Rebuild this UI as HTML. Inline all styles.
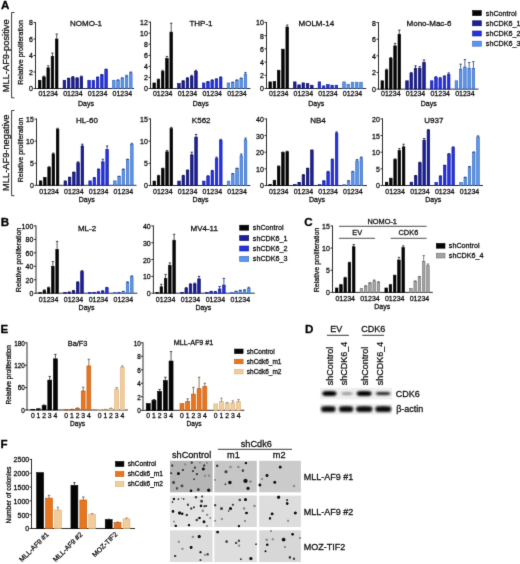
<!DOCTYPE html>
<html><head><meta charset="utf-8"><title>figure</title>
<style>
html,body{margin:0;padding:0;background:#fff;}
body{width:520px;height:564px;overflow:hidden;}
svg{display:block;} .wrap{will-change:transform;}
text{font-family:"Liberation Sans", sans-serif;stroke:currentColor;stroke-width:0.28px;}
</style></head><body><div class="wrap">
<svg width="520" height="564" viewBox="0 0 520 564" font-family='"Liberation Sans", sans-serif'>
<defs><filter id="soft" filterUnits="userSpaceOnUse" x="0" y="0" width="520" height="564" color-interpolation-filters="sRGB"><feConvolveMatrix order="3" kernelMatrix="0.01 0.08 0.01 0.08 0.64 0.08 0.01 0.08 0.01" edgeMode="duplicate" preserveAlpha="true"/></filter></defs>
<g filter="url(#soft)">
<rect x="0" y="0" width="520" height="564" fill="#ffffff"/>
<text x="1.00" y="9.20" font-size="11.6" text-anchor="start" font-weight="bold" fill="#000" style="color:#000" >A</text>
<path d="M14.40,12.50 H11.60 V97.80 H14.40" fill="none" stroke="#222" stroke-width="0.9"/>
<path d="M14.40,110.50 H11.60 V195.70 H14.40" fill="none" stroke="#222" stroke-width="0.9"/>
<text x="0" y="0" font-size="9.3" text-anchor="middle" fill="#111" style="color:#111" transform="translate(9.30,55.80) rotate(-90)">MLL-AF9-positive</text>
<text x="0" y="0" font-size="9.3" text-anchor="middle" fill="#111" style="color:#111" transform="translate(9.30,152.70) rotate(-90)">MLL-AF9-negative</text>
<text x="0" y="0" font-size="7.1" text-anchor="middle" fill="#111" style="color:#111" transform="translate(23.00,52.50) rotate(-90)">Relative proliferation</text>
<text x="0" y="0" font-size="7.1" text-anchor="middle" fill="#111" style="color:#111" transform="translate(23.00,150.00) rotate(-90)">Relative proliferation</text>
<line x1="35.50" y1="22.10" x2="35.50" y2="88.90" stroke="#222" stroke-width="0.95"/>
<line x1="35.50" y1="88.50" x2="134.00" y2="88.50" stroke="#222" stroke-width="0.95"/>
<line x1="33.50" y1="88.50" x2="35.50" y2="88.50" stroke="#222" stroke-width="0.95"/>
<text x="32.80" y="91.47" font-size="7.0" text-anchor="end" font-weight="normal" fill="#111" style="color:#111" >0</text>
<line x1="33.50" y1="72.00" x2="35.50" y2="72.00" stroke="#222" stroke-width="0.95"/>
<text x="32.80" y="74.97" font-size="7.0" text-anchor="end" font-weight="normal" fill="#111" style="color:#111" >2</text>
<line x1="33.50" y1="55.50" x2="35.50" y2="55.50" stroke="#222" stroke-width="0.95"/>
<text x="32.80" y="58.47" font-size="7.0" text-anchor="end" font-weight="normal" fill="#111" style="color:#111" >4</text>
<line x1="33.50" y1="39.00" x2="35.50" y2="39.00" stroke="#222" stroke-width="0.95"/>
<text x="32.80" y="41.97" font-size="7.0" text-anchor="end" font-weight="normal" fill="#111" style="color:#111" >6</text>
<line x1="33.50" y1="22.50" x2="35.50" y2="22.50" stroke="#222" stroke-width="0.95"/>
<text x="32.80" y="25.47" font-size="7.0" text-anchor="end" font-weight="normal" fill="#111" style="color:#111" >8</text>
<rect x="38.40" y="80.25" width="2.60" height="8.25" fill="#050505" stroke="#000000" stroke-width="0.6"/>
<rect x="42.65" y="76.95" width="2.60" height="11.55" fill="#050505" stroke="#000000" stroke-width="0.6"/>
<line x1="43.95" y1="77.25" x2="43.95" y2="76.12" stroke="#222" stroke-width="0.75"/>
<line x1="42.75" y1="76.12" x2="45.15" y2="76.12" stroke="#222" stroke-width="0.8"/>
<rect x="46.90" y="67.88" width="2.60" height="20.62" fill="#050505" stroke="#000000" stroke-width="0.6"/>
<line x1="48.20" y1="68.17" x2="48.20" y2="65.81" stroke="#222" stroke-width="0.75"/>
<line x1="47.00" y1="65.81" x2="49.40" y2="65.81" stroke="#222" stroke-width="0.8"/>
<rect x="51.15" y="56.33" width="2.60" height="32.17" fill="#050505" stroke="#000000" stroke-width="0.6"/>
<line x1="52.45" y1="56.62" x2="52.45" y2="53.03" stroke="#222" stroke-width="0.75"/>
<line x1="51.25" y1="53.03" x2="53.65" y2="53.03" stroke="#222" stroke-width="0.8"/>
<rect x="55.40" y="39.00" width="2.60" height="49.50" fill="#050505" stroke="#000000" stroke-width="0.6"/>
<line x1="56.70" y1="39.30" x2="56.70" y2="34.05" stroke="#222" stroke-width="0.75"/>
<line x1="55.50" y1="34.05" x2="57.90" y2="34.05" stroke="#222" stroke-width="0.8"/>
<text x="48.20" y="96.40" font-size="7.0" text-anchor="middle" font-weight="normal" fill="#111" style="color:#111" >01234</text>
<rect x="63.10" y="80.25" width="2.60" height="8.25" fill="#1b1f9c" stroke="#090b58" stroke-width="0.6"/>
<rect x="67.35" y="78.60" width="2.60" height="9.90" fill="#1b1f9c" stroke="#090b58" stroke-width="0.6"/>
<line x1="68.65" y1="78.90" x2="68.65" y2="78.19" stroke="#0a0c40" stroke-width="0.75"/>
<line x1="67.45" y1="78.19" x2="69.85" y2="78.19" stroke="#0a0c40" stroke-width="0.8"/>
<rect x="71.60" y="77.36" width="2.60" height="11.14" fill="#1b1f9c" stroke="#090b58" stroke-width="0.6"/>
<line x1="72.90" y1="77.66" x2="72.90" y2="76.54" stroke="#0a0c40" stroke-width="0.75"/>
<line x1="71.70" y1="76.54" x2="74.10" y2="76.54" stroke="#0a0c40" stroke-width="0.8"/>
<rect x="75.85" y="78.19" width="2.60" height="10.31" fill="#1b1f9c" stroke="#090b58" stroke-width="0.6"/>
<line x1="77.15" y1="78.49" x2="77.15" y2="77.78" stroke="#0a0c40" stroke-width="0.75"/>
<line x1="75.95" y1="77.78" x2="78.35" y2="77.78" stroke="#0a0c40" stroke-width="0.8"/>
<rect x="80.10" y="76.95" width="2.60" height="11.55" fill="#1b1f9c" stroke="#090b58" stroke-width="0.6"/>
<line x1="81.40" y1="77.25" x2="81.40" y2="76.12" stroke="#0a0c40" stroke-width="0.75"/>
<line x1="80.20" y1="76.12" x2="82.60" y2="76.12" stroke="#0a0c40" stroke-width="0.8"/>
<text x="72.90" y="96.40" font-size="7.0" text-anchor="middle" font-weight="normal" fill="#111" style="color:#111" >01234</text>
<rect x="87.80" y="80.25" width="2.60" height="8.25" fill="#2432e0" stroke="#141e9c" stroke-width="0.6"/>
<rect x="92.05" y="80.25" width="2.60" height="8.25" fill="#2432e0" stroke="#141e9c" stroke-width="0.6"/>
<rect x="96.30" y="77.36" width="2.60" height="11.14" fill="#2432e0" stroke="#141e9c" stroke-width="0.6"/>
<line x1="97.60" y1="77.66" x2="97.60" y2="76.95" stroke="#10156a" stroke-width="0.75"/>
<line x1="96.40" y1="76.95" x2="98.80" y2="76.95" stroke="#10156a" stroke-width="0.8"/>
<rect x="100.55" y="74.89" width="2.60" height="13.61" fill="#2432e0" stroke="#141e9c" stroke-width="0.6"/>
<line x1="101.85" y1="75.19" x2="101.85" y2="74.48" stroke="#10156a" stroke-width="0.75"/>
<line x1="100.65" y1="74.48" x2="103.05" y2="74.48" stroke="#10156a" stroke-width="0.8"/>
<rect x="104.80" y="69.53" width="2.60" height="18.97" fill="#2432e0" stroke="#141e9c" stroke-width="0.6"/>
<line x1="106.10" y1="69.83" x2="106.10" y2="69.11" stroke="#10156a" stroke-width="0.75"/>
<line x1="104.90" y1="69.11" x2="107.30" y2="69.11" stroke="#10156a" stroke-width="0.8"/>
<text x="97.60" y="96.40" font-size="7.0" text-anchor="middle" font-weight="normal" fill="#111" style="color:#111" >01234</text>
<rect x="112.50" y="80.25" width="2.60" height="8.25" fill="#5a96ea" stroke="#3566b8" stroke-width="0.6"/>
<rect x="116.75" y="80.25" width="2.60" height="8.25" fill="#5a96ea" stroke="#3566b8" stroke-width="0.6"/>
<line x1="118.05" y1="80.55" x2="118.05" y2="79.84" stroke="#1f3468" stroke-width="0.75"/>
<line x1="116.85" y1="79.84" x2="119.25" y2="79.84" stroke="#1f3468" stroke-width="0.8"/>
<rect x="121.00" y="78.19" width="2.60" height="10.31" fill="#5a96ea" stroke="#3566b8" stroke-width="0.6"/>
<line x1="122.30" y1="78.49" x2="122.30" y2="77.78" stroke="#1f3468" stroke-width="0.75"/>
<line x1="121.10" y1="77.78" x2="123.50" y2="77.78" stroke="#1f3468" stroke-width="0.8"/>
<rect x="125.25" y="76.12" width="2.60" height="12.38" fill="#5a96ea" stroke="#3566b8" stroke-width="0.6"/>
<line x1="126.55" y1="76.42" x2="126.55" y2="75.30" stroke="#1f3468" stroke-width="0.75"/>
<line x1="125.35" y1="75.30" x2="127.75" y2="75.30" stroke="#1f3468" stroke-width="0.8"/>
<rect x="129.50" y="72.83" width="2.60" height="15.67" fill="#5a96ea" stroke="#3566b8" stroke-width="0.6"/>
<line x1="130.80" y1="73.12" x2="130.80" y2="72.00" stroke="#1f3468" stroke-width="0.75"/>
<line x1="129.60" y1="72.00" x2="132.00" y2="72.00" stroke="#1f3468" stroke-width="0.8"/>
<text x="122.30" y="96.40" font-size="7.0" text-anchor="middle" font-weight="normal" fill="#111" style="color:#111" >01234</text>
<text x="86.00" y="25.80" font-size="8.0" text-anchor="middle" font-weight="normal" fill="#111" style="color:#111" >NOMO-1</text>
<text x="86.00" y="105.50" font-size="7.0" text-anchor="middle" font-weight="normal" fill="#111" style="color:#111" >Days</text>
<line x1="150.50" y1="21.70" x2="150.50" y2="88.90" stroke="#222" stroke-width="0.95"/>
<line x1="150.50" y1="88.50" x2="250.40" y2="88.50" stroke="#222" stroke-width="0.95"/>
<line x1="148.50" y1="88.50" x2="150.50" y2="88.50" stroke="#222" stroke-width="0.95"/>
<text x="147.80" y="91.47" font-size="7.0" text-anchor="end" font-weight="normal" fill="#111" style="color:#111" >0</text>
<line x1="148.50" y1="77.43" x2="150.50" y2="77.43" stroke="#222" stroke-width="0.95"/>
<text x="147.80" y="80.40" font-size="7.0" text-anchor="end" font-weight="normal" fill="#111" style="color:#111" >2</text>
<line x1="148.50" y1="66.37" x2="150.50" y2="66.37" stroke="#222" stroke-width="0.95"/>
<text x="147.80" y="69.34" font-size="7.0" text-anchor="end" font-weight="normal" fill="#111" style="color:#111" >4</text>
<line x1="148.50" y1="55.30" x2="150.50" y2="55.30" stroke="#222" stroke-width="0.95"/>
<text x="147.80" y="58.27" font-size="7.0" text-anchor="end" font-weight="normal" fill="#111" style="color:#111" >6</text>
<line x1="148.50" y1="44.23" x2="150.50" y2="44.23" stroke="#222" stroke-width="0.95"/>
<text x="147.80" y="47.20" font-size="7.0" text-anchor="end" font-weight="normal" fill="#111" style="color:#111" >8</text>
<line x1="148.50" y1="33.17" x2="150.50" y2="33.17" stroke="#222" stroke-width="0.95"/>
<text x="147.80" y="36.14" font-size="7.0" text-anchor="end" font-weight="normal" fill="#111" style="color:#111" >10</text>
<line x1="148.50" y1="22.10" x2="150.50" y2="22.10" stroke="#222" stroke-width="0.95"/>
<text x="147.80" y="25.07" font-size="7.0" text-anchor="end" font-weight="normal" fill="#111" style="color:#111" >12</text>
<rect x="152.90" y="82.97" width="2.60" height="5.53" fill="#050505" stroke="#000000" stroke-width="0.6"/>
<rect x="157.15" y="79.65" width="2.60" height="8.85" fill="#050505" stroke="#000000" stroke-width="0.6"/>
<line x1="158.45" y1="79.95" x2="158.45" y2="79.09" stroke="#222" stroke-width="0.75"/>
<line x1="157.25" y1="79.09" x2="159.65" y2="79.09" stroke="#222" stroke-width="0.8"/>
<rect x="161.40" y="71.35" width="2.60" height="17.15" fill="#050505" stroke="#000000" stroke-width="0.6"/>
<line x1="162.70" y1="71.65" x2="162.70" y2="70.24" stroke="#222" stroke-width="0.75"/>
<line x1="161.50" y1="70.24" x2="163.90" y2="70.24" stroke="#222" stroke-width="0.8"/>
<rect x="165.65" y="58.62" width="2.60" height="29.88" fill="#050505" stroke="#000000" stroke-width="0.6"/>
<line x1="166.95" y1="58.92" x2="166.95" y2="56.41" stroke="#222" stroke-width="0.75"/>
<line x1="165.75" y1="56.41" x2="168.15" y2="56.41" stroke="#222" stroke-width="0.8"/>
<rect x="169.90" y="32.06" width="2.60" height="56.44" fill="#050505" stroke="#000000" stroke-width="0.6"/>
<line x1="171.20" y1="32.36" x2="171.20" y2="23.21" stroke="#222" stroke-width="0.75"/>
<line x1="170.00" y1="23.21" x2="172.40" y2="23.21" stroke="#222" stroke-width="0.8"/>
<text x="162.70" y="96.40" font-size="7.0" text-anchor="middle" font-weight="normal" fill="#111" style="color:#111" >01234</text>
<rect x="177.65" y="83.52" width="2.60" height="4.98" fill="#1b1f9c" stroke="#090b58" stroke-width="0.6"/>
<rect x="181.90" y="81.03" width="2.60" height="7.47" fill="#1b1f9c" stroke="#090b58" stroke-width="0.6"/>
<line x1="183.20" y1="81.33" x2="183.20" y2="80.75" stroke="#0a0c40" stroke-width="0.75"/>
<line x1="182.00" y1="80.75" x2="184.40" y2="80.75" stroke="#0a0c40" stroke-width="0.8"/>
<rect x="186.15" y="78.26" width="2.60" height="10.24" fill="#1b1f9c" stroke="#090b58" stroke-width="0.6"/>
<line x1="187.45" y1="78.56" x2="187.45" y2="77.71" stroke="#0a0c40" stroke-width="0.75"/>
<line x1="186.25" y1="77.71" x2="188.65" y2="77.71" stroke="#0a0c40" stroke-width="0.8"/>
<rect x="190.40" y="76.33" width="2.60" height="12.17" fill="#1b1f9c" stroke="#090b58" stroke-width="0.6"/>
<line x1="191.70" y1="76.63" x2="191.70" y2="75.22" stroke="#0a0c40" stroke-width="0.75"/>
<line x1="190.50" y1="75.22" x2="192.90" y2="75.22" stroke="#0a0c40" stroke-width="0.8"/>
<rect x="194.65" y="71.35" width="2.60" height="17.15" fill="#1b1f9c" stroke="#090b58" stroke-width="0.6"/>
<line x1="195.95" y1="71.65" x2="195.95" y2="70.24" stroke="#0a0c40" stroke-width="0.75"/>
<line x1="194.75" y1="70.24" x2="197.15" y2="70.24" stroke="#0a0c40" stroke-width="0.8"/>
<text x="187.45" y="96.40" font-size="7.0" text-anchor="middle" font-weight="normal" fill="#111" style="color:#111" >01234</text>
<rect x="202.40" y="82.97" width="2.60" height="5.53" fill="#2432e0" stroke="#141e9c" stroke-width="0.6"/>
<rect x="206.65" y="81.86" width="2.60" height="6.64" fill="#2432e0" stroke="#141e9c" stroke-width="0.6"/>
<line x1="207.95" y1="82.16" x2="207.95" y2="81.58" stroke="#10156a" stroke-width="0.75"/>
<line x1="206.75" y1="81.58" x2="209.15" y2="81.58" stroke="#10156a" stroke-width="0.8"/>
<rect x="210.90" y="80.20" width="2.60" height="8.30" fill="#2432e0" stroke="#141e9c" stroke-width="0.6"/>
<line x1="212.20" y1="80.50" x2="212.20" y2="79.92" stroke="#10156a" stroke-width="0.75"/>
<line x1="211.00" y1="79.92" x2="213.40" y2="79.92" stroke="#10156a" stroke-width="0.8"/>
<rect x="215.15" y="79.09" width="2.60" height="9.41" fill="#2432e0" stroke="#141e9c" stroke-width="0.6"/>
<line x1="216.45" y1="79.39" x2="216.45" y2="78.82" stroke="#10156a" stroke-width="0.75"/>
<line x1="215.25" y1="78.82" x2="217.65" y2="78.82" stroke="#10156a" stroke-width="0.8"/>
<rect x="219.40" y="77.43" width="2.60" height="11.07" fill="#2432e0" stroke="#141e9c" stroke-width="0.6"/>
<line x1="220.70" y1="77.73" x2="220.70" y2="76.88" stroke="#10156a" stroke-width="0.75"/>
<line x1="219.50" y1="76.88" x2="221.90" y2="76.88" stroke="#10156a" stroke-width="0.8"/>
<text x="212.20" y="96.40" font-size="7.0" text-anchor="middle" font-weight="normal" fill="#111" style="color:#111" >01234</text>
<rect x="227.15" y="82.97" width="2.60" height="5.53" fill="#5a96ea" stroke="#3566b8" stroke-width="0.6"/>
<rect x="231.40" y="82.41" width="2.60" height="6.09" fill="#5a96ea" stroke="#3566b8" stroke-width="0.6"/>
<line x1="232.70" y1="82.71" x2="232.70" y2="82.14" stroke="#1f3468" stroke-width="0.75"/>
<line x1="231.50" y1="82.14" x2="233.90" y2="82.14" stroke="#1f3468" stroke-width="0.8"/>
<rect x="235.65" y="80.20" width="2.60" height="8.30" fill="#5a96ea" stroke="#3566b8" stroke-width="0.6"/>
<line x1="236.95" y1="80.50" x2="236.95" y2="79.92" stroke="#1f3468" stroke-width="0.75"/>
<line x1="235.75" y1="79.92" x2="238.15" y2="79.92" stroke="#1f3468" stroke-width="0.8"/>
<rect x="239.90" y="78.54" width="2.60" height="9.96" fill="#5a96ea" stroke="#3566b8" stroke-width="0.6"/>
<line x1="241.20" y1="78.84" x2="241.20" y2="77.99" stroke="#1f3468" stroke-width="0.75"/>
<line x1="240.00" y1="77.99" x2="242.40" y2="77.99" stroke="#1f3468" stroke-width="0.8"/>
<rect x="244.15" y="74.11" width="2.60" height="14.39" fill="#5a96ea" stroke="#3566b8" stroke-width="0.6"/>
<line x1="245.45" y1="74.41" x2="245.45" y2="72.45" stroke="#1f3468" stroke-width="0.75"/>
<line x1="244.25" y1="72.45" x2="246.65" y2="72.45" stroke="#1f3468" stroke-width="0.8"/>
<text x="236.95" y="96.40" font-size="7.0" text-anchor="middle" font-weight="normal" fill="#111" style="color:#111" >01234</text>
<text x="201.00" y="25.80" font-size="8.0" text-anchor="middle" font-weight="normal" fill="#111" style="color:#111" >THP-1</text>
<text x="200.70" y="105.50" font-size="7.0" text-anchor="middle" font-weight="normal" fill="#111" style="color:#111" >Days</text>
<line x1="266.50" y1="22.00" x2="266.50" y2="88.90" stroke="#222" stroke-width="0.95"/>
<line x1="266.50" y1="88.50" x2="366.20" y2="88.50" stroke="#222" stroke-width="0.95"/>
<line x1="264.50" y1="88.50" x2="266.50" y2="88.50" stroke="#222" stroke-width="0.95"/>
<text x="263.80" y="91.47" font-size="7.0" text-anchor="end" font-weight="normal" fill="#111" style="color:#111" >0</text>
<line x1="264.50" y1="75.28" x2="266.50" y2="75.28" stroke="#222" stroke-width="0.95"/>
<text x="263.80" y="78.25" font-size="7.0" text-anchor="end" font-weight="normal" fill="#111" style="color:#111" >2</text>
<line x1="264.50" y1="62.06" x2="266.50" y2="62.06" stroke="#222" stroke-width="0.95"/>
<text x="263.80" y="65.03" font-size="7.0" text-anchor="end" font-weight="normal" fill="#111" style="color:#111" >4</text>
<line x1="264.50" y1="48.84" x2="266.50" y2="48.84" stroke="#222" stroke-width="0.95"/>
<text x="263.80" y="51.81" font-size="7.0" text-anchor="end" font-weight="normal" fill="#111" style="color:#111" >6</text>
<line x1="264.50" y1="35.62" x2="266.50" y2="35.62" stroke="#222" stroke-width="0.95"/>
<text x="263.80" y="38.59" font-size="7.0" text-anchor="end" font-weight="normal" fill="#111" style="color:#111" >8</text>
<line x1="264.50" y1="22.40" x2="266.50" y2="22.40" stroke="#222" stroke-width="0.95"/>
<text x="263.80" y="25.37" font-size="7.0" text-anchor="end" font-weight="normal" fill="#111" style="color:#111" >10</text>
<rect x="268.90" y="81.89" width="2.60" height="6.61" fill="#050505" stroke="#000000" stroke-width="0.6"/>
<rect x="273.15" y="81.56" width="2.60" height="6.94" fill="#050505" stroke="#000000" stroke-width="0.6"/>
<rect x="277.40" y="70.65" width="2.60" height="17.85" fill="#050505" stroke="#000000" stroke-width="0.6"/>
<line x1="278.70" y1="70.95" x2="278.70" y2="70.32" stroke="#222" stroke-width="0.75"/>
<line x1="277.50" y1="70.32" x2="279.90" y2="70.32" stroke="#222" stroke-width="0.8"/>
<rect x="281.65" y="49.50" width="2.60" height="39.00" fill="#050505" stroke="#000000" stroke-width="0.6"/>
<line x1="282.95" y1="49.80" x2="282.95" y2="49.17" stroke="#222" stroke-width="0.75"/>
<line x1="281.75" y1="49.17" x2="284.15" y2="49.17" stroke="#222" stroke-width="0.8"/>
<rect x="285.90" y="27.03" width="2.60" height="61.47" fill="#050505" stroke="#000000" stroke-width="0.6"/>
<line x1="287.20" y1="27.33" x2="287.20" y2="25.04" stroke="#222" stroke-width="0.75"/>
<line x1="286.00" y1="25.04" x2="288.40" y2="25.04" stroke="#222" stroke-width="0.8"/>
<text x="278.70" y="96.40" font-size="7.0" text-anchor="middle" font-weight="normal" fill="#111" style="color:#111" >01234</text>
<rect x="293.50" y="81.89" width="2.60" height="6.61" fill="#1b1f9c" stroke="#090b58" stroke-width="0.6"/>
<rect x="297.75" y="84.86" width="2.60" height="3.64" fill="#1b1f9c" stroke="#090b58" stroke-width="0.6"/>
<rect x="302.00" y="82.88" width="2.60" height="5.62" fill="#1b1f9c" stroke="#090b58" stroke-width="0.6"/>
<rect x="306.25" y="83.54" width="2.60" height="4.96" fill="#1b1f9c" stroke="#090b58" stroke-width="0.6"/>
<rect x="310.50" y="85.19" width="2.60" height="3.30" fill="#1b1f9c" stroke="#090b58" stroke-width="0.6"/>
<text x="303.30" y="96.40" font-size="7.0" text-anchor="middle" font-weight="normal" fill="#111" style="color:#111" >01234</text>
<rect x="318.10" y="81.89" width="2.60" height="6.61" fill="#2432e0" stroke="#141e9c" stroke-width="0.6"/>
<rect x="322.35" y="85.86" width="2.60" height="2.64" fill="#2432e0" stroke="#141e9c" stroke-width="0.6"/>
<rect x="326.60" y="84.53" width="2.60" height="3.97" fill="#2432e0" stroke="#141e9c" stroke-width="0.6"/>
<rect x="330.85" y="85.19" width="2.60" height="3.30" fill="#2432e0" stroke="#141e9c" stroke-width="0.6"/>
<rect x="335.10" y="85.19" width="2.60" height="3.30" fill="#2432e0" stroke="#141e9c" stroke-width="0.6"/>
<text x="327.90" y="96.40" font-size="7.0" text-anchor="middle" font-weight="normal" fill="#111" style="color:#111" >01234</text>
<rect x="342.70" y="81.89" width="2.60" height="6.61" fill="#5a96ea" stroke="#3566b8" stroke-width="0.6"/>
<rect x="346.95" y="84.20" width="2.60" height="4.30" fill="#5a96ea" stroke="#3566b8" stroke-width="0.6"/>
<rect x="351.20" y="82.22" width="2.60" height="6.28" fill="#5a96ea" stroke="#3566b8" stroke-width="0.6"/>
<rect x="355.45" y="82.22" width="2.60" height="6.28" fill="#5a96ea" stroke="#3566b8" stroke-width="0.6"/>
<rect x="359.70" y="82.22" width="2.60" height="6.28" fill="#5a96ea" stroke="#3566b8" stroke-width="0.6"/>
<text x="352.50" y="96.40" font-size="7.0" text-anchor="middle" font-weight="normal" fill="#111" style="color:#111" >01234</text>
<text x="316.30" y="25.80" font-size="8.0" text-anchor="middle" font-weight="normal" fill="#111" style="color:#111" >MOLM-14</text>
<text x="316.20" y="105.50" font-size="7.0" text-anchor="middle" font-weight="normal" fill="#111" style="color:#111" >Days</text>
<line x1="378.50" y1="22.20" x2="378.50" y2="89.50" stroke="#222" stroke-width="0.95"/>
<line x1="378.50" y1="89.10" x2="478.50" y2="89.10" stroke="#222" stroke-width="0.95"/>
<line x1="376.50" y1="89.10" x2="378.50" y2="89.10" stroke="#222" stroke-width="0.95"/>
<text x="375.80" y="92.07" font-size="7.0" text-anchor="end" font-weight="normal" fill="#111" style="color:#111" >0</text>
<line x1="376.50" y1="72.47" x2="378.50" y2="72.47" stroke="#222" stroke-width="0.95"/>
<text x="375.80" y="75.44" font-size="7.0" text-anchor="end" font-weight="normal" fill="#111" style="color:#111" >2</text>
<line x1="376.50" y1="55.85" x2="378.50" y2="55.85" stroke="#222" stroke-width="0.95"/>
<text x="375.80" y="58.82" font-size="7.0" text-anchor="end" font-weight="normal" fill="#111" style="color:#111" >4</text>
<line x1="376.50" y1="39.22" x2="378.50" y2="39.22" stroke="#222" stroke-width="0.95"/>
<text x="375.80" y="42.20" font-size="7.0" text-anchor="end" font-weight="normal" fill="#111" style="color:#111" >6</text>
<line x1="376.50" y1="22.60" x2="378.50" y2="22.60" stroke="#222" stroke-width="0.95"/>
<text x="375.80" y="25.57" font-size="7.0" text-anchor="end" font-weight="normal" fill="#111" style="color:#111" >8</text>
<rect x="381.00" y="80.79" width="2.60" height="8.31" fill="#050505" stroke="#000000" stroke-width="0.6"/>
<rect x="385.25" y="69.98" width="2.60" height="19.12" fill="#050505" stroke="#000000" stroke-width="0.6"/>
<line x1="386.55" y1="70.28" x2="386.55" y2="69.15" stroke="#222" stroke-width="0.75"/>
<line x1="385.35" y1="69.15" x2="387.75" y2="69.15" stroke="#222" stroke-width="0.8"/>
<rect x="389.50" y="58.34" width="2.60" height="30.76" fill="#050505" stroke="#000000" stroke-width="0.6"/>
<line x1="390.80" y1="58.64" x2="390.80" y2="57.51" stroke="#222" stroke-width="0.75"/>
<line x1="389.60" y1="57.51" x2="392.00" y2="57.51" stroke="#222" stroke-width="0.8"/>
<rect x="393.75" y="45.87" width="2.60" height="43.23" fill="#050505" stroke="#000000" stroke-width="0.6"/>
<line x1="395.05" y1="46.17" x2="395.05" y2="43.38" stroke="#222" stroke-width="0.75"/>
<line x1="393.85" y1="43.38" x2="396.25" y2="43.38" stroke="#222" stroke-width="0.8"/>
<rect x="398.00" y="34.24" width="2.60" height="54.86" fill="#050505" stroke="#000000" stroke-width="0.6"/>
<line x1="399.30" y1="34.54" x2="399.30" y2="30.08" stroke="#222" stroke-width="0.75"/>
<line x1="398.10" y1="30.08" x2="400.50" y2="30.08" stroke="#222" stroke-width="0.8"/>
<text x="390.80" y="96.40" font-size="7.0" text-anchor="middle" font-weight="normal" fill="#111" style="color:#111" >01234</text>
<rect x="405.70" y="80.79" width="2.60" height="8.31" fill="#1b1f9c" stroke="#090b58" stroke-width="0.6"/>
<rect x="409.95" y="73.31" width="2.60" height="15.79" fill="#1b1f9c" stroke="#090b58" stroke-width="0.6"/>
<line x1="411.25" y1="73.61" x2="411.25" y2="72.47" stroke="#0a0c40" stroke-width="0.75"/>
<line x1="410.05" y1="72.47" x2="412.45" y2="72.47" stroke="#0a0c40" stroke-width="0.8"/>
<rect x="414.20" y="68.32" width="2.60" height="20.78" fill="#1b1f9c" stroke="#090b58" stroke-width="0.6"/>
<line x1="415.50" y1="68.62" x2="415.50" y2="65.82" stroke="#0a0c40" stroke-width="0.75"/>
<line x1="414.30" y1="65.82" x2="416.70" y2="65.82" stroke="#0a0c40" stroke-width="0.8"/>
<rect x="418.45" y="68.32" width="2.60" height="20.78" fill="#1b1f9c" stroke="#090b58" stroke-width="0.6"/>
<line x1="419.75" y1="68.62" x2="419.75" y2="66.66" stroke="#0a0c40" stroke-width="0.75"/>
<line x1="418.55" y1="66.66" x2="420.95" y2="66.66" stroke="#0a0c40" stroke-width="0.8"/>
<rect x="422.70" y="62.50" width="2.60" height="26.60" fill="#1b1f9c" stroke="#090b58" stroke-width="0.6"/>
<line x1="424.00" y1="62.80" x2="424.00" y2="60.01" stroke="#0a0c40" stroke-width="0.75"/>
<line x1="422.80" y1="60.01" x2="425.20" y2="60.01" stroke="#0a0c40" stroke-width="0.8"/>
<text x="415.50" y="96.40" font-size="7.0" text-anchor="middle" font-weight="normal" fill="#111" style="color:#111" >01234</text>
<rect x="430.40" y="80.79" width="2.60" height="8.31" fill="#2432e0" stroke="#141e9c" stroke-width="0.6"/>
<rect x="434.65" y="77.46" width="2.60" height="11.64" fill="#2432e0" stroke="#141e9c" stroke-width="0.6"/>
<line x1="435.95" y1="77.76" x2="435.95" y2="76.63" stroke="#10156a" stroke-width="0.75"/>
<line x1="434.75" y1="76.63" x2="437.15" y2="76.63" stroke="#10156a" stroke-width="0.8"/>
<rect x="438.90" y="78.29" width="2.60" height="10.81" fill="#2432e0" stroke="#141e9c" stroke-width="0.6"/>
<line x1="440.20" y1="78.59" x2="440.20" y2="77.46" stroke="#10156a" stroke-width="0.75"/>
<line x1="439.00" y1="77.46" x2="441.40" y2="77.46" stroke="#10156a" stroke-width="0.8"/>
<rect x="443.15" y="76.63" width="2.60" height="12.47" fill="#2432e0" stroke="#141e9c" stroke-width="0.6"/>
<line x1="444.45" y1="76.93" x2="444.45" y2="75.80" stroke="#10156a" stroke-width="0.75"/>
<line x1="443.25" y1="75.80" x2="445.65" y2="75.80" stroke="#10156a" stroke-width="0.8"/>
<rect x="447.40" y="74.55" width="2.60" height="14.55" fill="#2432e0" stroke="#141e9c" stroke-width="0.6"/>
<line x1="448.70" y1="74.85" x2="448.70" y2="72.89" stroke="#10156a" stroke-width="0.75"/>
<line x1="447.50" y1="72.89" x2="449.90" y2="72.89" stroke="#10156a" stroke-width="0.8"/>
<text x="440.20" y="96.40" font-size="7.0" text-anchor="middle" font-weight="normal" fill="#111" style="color:#111" >01234</text>
<rect x="455.10" y="80.79" width="2.60" height="8.31" fill="#5a96ea" stroke="#3566b8" stroke-width="0.6"/>
<rect x="459.35" y="69.15" width="2.60" height="19.95" fill="#5a96ea" stroke="#3566b8" stroke-width="0.6"/>
<line x1="460.65" y1="69.45" x2="460.65" y2="64.16" stroke="#1f3468" stroke-width="0.75"/>
<line x1="459.45" y1="64.16" x2="461.85" y2="64.16" stroke="#1f3468" stroke-width="0.8"/>
<rect x="463.60" y="67.07" width="2.60" height="22.03" fill="#5a96ea" stroke="#3566b8" stroke-width="0.6"/>
<line x1="464.90" y1="67.37" x2="464.90" y2="59.59" stroke="#1f3468" stroke-width="0.75"/>
<line x1="463.70" y1="59.59" x2="466.10" y2="59.59" stroke="#1f3468" stroke-width="0.8"/>
<rect x="467.85" y="68.32" width="2.60" height="20.78" fill="#5a96ea" stroke="#3566b8" stroke-width="0.6"/>
<line x1="469.15" y1="68.62" x2="469.15" y2="62.50" stroke="#1f3468" stroke-width="0.75"/>
<line x1="467.95" y1="62.50" x2="470.35" y2="62.50" stroke="#1f3468" stroke-width="0.8"/>
<rect x="472.10" y="68.32" width="2.60" height="20.78" fill="#5a96ea" stroke="#3566b8" stroke-width="0.6"/>
<line x1="473.40" y1="68.62" x2="473.40" y2="61.67" stroke="#1f3468" stroke-width="0.75"/>
<line x1="472.20" y1="61.67" x2="474.60" y2="61.67" stroke="#1f3468" stroke-width="0.8"/>
<text x="464.90" y="96.40" font-size="7.0" text-anchor="middle" font-weight="normal" fill="#111" style="color:#111" >01234</text>
<text x="429.00" y="25.80" font-size="8.0" text-anchor="middle" font-weight="normal" fill="#111" style="color:#111" >Mono-Mac-6</text>
<text x="428.80" y="105.50" font-size="7.0" text-anchor="middle" font-weight="normal" fill="#111" style="color:#111" >Days</text>
<rect x="472.60" y="10.60" width="8.70" height="5.00" fill="#050505" stroke="#000000" stroke-width="0.6"/>
<text x="485.80" y="15.69" font-size="7.2" text-anchor="start" font-weight="normal" fill="#111" style="color:#111" >shControl</text>
<rect x="472.60" y="20.80" width="8.70" height="5.00" fill="#1b1f9c" stroke="#090b58" stroke-width="0.6"/>
<text x="485.80" y="25.89" font-size="7.2" text-anchor="start" font-weight="normal" fill="#111" style="color:#111" >shCDK6_1</text>
<rect x="472.60" y="31.00" width="8.70" height="5.00" fill="#2432e0" stroke="#141e9c" stroke-width="0.6"/>
<text x="485.80" y="36.09" font-size="7.2" text-anchor="start" font-weight="normal" fill="#111" style="color:#111" >shCDK6_2</text>
<rect x="472.60" y="41.20" width="8.70" height="5.00" fill="#5a96ea" stroke="#3566b8" stroke-width="0.6"/>
<text x="485.80" y="46.29" font-size="7.2" text-anchor="start" font-weight="normal" fill="#111" style="color:#111" >shCDK6_3</text>
<line x1="36.50" y1="118.60" x2="36.50" y2="185.70" stroke="#222" stroke-width="0.95"/>
<line x1="36.50" y1="185.30" x2="136.50" y2="185.30" stroke="#222" stroke-width="0.95"/>
<line x1="34.50" y1="185.30" x2="36.50" y2="185.30" stroke="#222" stroke-width="0.95"/>
<text x="33.80" y="188.27" font-size="7.0" text-anchor="end" font-weight="normal" fill="#111" style="color:#111" >0</text>
<line x1="34.50" y1="163.20" x2="36.50" y2="163.20" stroke="#222" stroke-width="0.95"/>
<text x="33.80" y="166.17" font-size="7.0" text-anchor="end" font-weight="normal" fill="#111" style="color:#111" >5</text>
<line x1="34.50" y1="141.10" x2="36.50" y2="141.10" stroke="#222" stroke-width="0.95"/>
<text x="33.80" y="144.07" font-size="7.0" text-anchor="end" font-weight="normal" fill="#111" style="color:#111" >10</text>
<line x1="34.50" y1="119.00" x2="36.50" y2="119.00" stroke="#222" stroke-width="0.95"/>
<text x="33.80" y="121.97" font-size="7.0" text-anchor="end" font-weight="normal" fill="#111" style="color:#111" >15</text>
<rect x="39.30" y="180.88" width="2.60" height="4.42" fill="#050505" stroke="#000000" stroke-width="0.6"/>
<rect x="43.55" y="177.34" width="2.60" height="7.96" fill="#050505" stroke="#000000" stroke-width="0.6"/>
<rect x="47.80" y="167.18" width="2.60" height="18.12" fill="#050505" stroke="#000000" stroke-width="0.6"/>
<line x1="49.10" y1="167.48" x2="49.10" y2="166.74" stroke="#222" stroke-width="0.75"/>
<line x1="47.90" y1="166.74" x2="50.30" y2="166.74" stroke="#222" stroke-width="0.8"/>
<rect x="52.05" y="153.92" width="2.60" height="31.38" fill="#050505" stroke="#000000" stroke-width="0.6"/>
<line x1="53.35" y1="154.22" x2="53.35" y2="153.03" stroke="#222" stroke-width="0.75"/>
<line x1="52.15" y1="153.03" x2="54.55" y2="153.03" stroke="#222" stroke-width="0.8"/>
<rect x="56.30" y="129.17" width="2.60" height="56.13" fill="#050505" stroke="#000000" stroke-width="0.6"/>
<line x1="57.60" y1="129.47" x2="57.60" y2="128.28" stroke="#222" stroke-width="0.75"/>
<line x1="56.40" y1="128.28" x2="58.80" y2="128.28" stroke="#222" stroke-width="0.8"/>
<text x="49.10" y="194.30" font-size="7.0" text-anchor="middle" font-weight="normal" fill="#111" style="color:#111" >01234</text>
<rect x="64.05" y="180.88" width="2.60" height="4.42" fill="#1b1f9c" stroke="#090b58" stroke-width="0.6"/>
<rect x="68.30" y="177.34" width="2.60" height="7.96" fill="#1b1f9c" stroke="#090b58" stroke-width="0.6"/>
<line x1="69.60" y1="177.64" x2="69.60" y2="177.12" stroke="#0a0c40" stroke-width="0.75"/>
<line x1="68.40" y1="177.12" x2="70.80" y2="177.12" stroke="#0a0c40" stroke-width="0.8"/>
<rect x="72.55" y="172.48" width="2.60" height="12.82" fill="#1b1f9c" stroke="#090b58" stroke-width="0.6"/>
<line x1="73.85" y1="172.78" x2="73.85" y2="172.04" stroke="#0a0c40" stroke-width="0.75"/>
<line x1="72.65" y1="172.04" x2="75.05" y2="172.04" stroke="#0a0c40" stroke-width="0.8"/>
<rect x="76.80" y="162.76" width="2.60" height="22.54" fill="#1b1f9c" stroke="#090b58" stroke-width="0.6"/>
<line x1="78.10" y1="163.06" x2="78.10" y2="161.87" stroke="#0a0c40" stroke-width="0.75"/>
<line x1="76.90" y1="161.87" x2="79.30" y2="161.87" stroke="#0a0c40" stroke-width="0.8"/>
<rect x="81.05" y="145.96" width="2.60" height="39.34" fill="#1b1f9c" stroke="#090b58" stroke-width="0.6"/>
<line x1="82.35" y1="146.26" x2="82.35" y2="144.19" stroke="#0a0c40" stroke-width="0.75"/>
<line x1="81.15" y1="144.19" x2="83.55" y2="144.19" stroke="#0a0c40" stroke-width="0.8"/>
<text x="73.85" y="194.30" font-size="7.0" text-anchor="middle" font-weight="normal" fill="#111" style="color:#111" >01234</text>
<rect x="88.80" y="180.88" width="2.60" height="4.42" fill="#2432e0" stroke="#141e9c" stroke-width="0.6"/>
<rect x="93.05" y="177.79" width="2.60" height="7.51" fill="#2432e0" stroke="#141e9c" stroke-width="0.6"/>
<line x1="94.35" y1="178.09" x2="94.35" y2="177.56" stroke="#10156a" stroke-width="0.75"/>
<line x1="93.15" y1="177.56" x2="95.55" y2="177.56" stroke="#10156a" stroke-width="0.8"/>
<rect x="97.30" y="169.39" width="2.60" height="15.91" fill="#2432e0" stroke="#141e9c" stroke-width="0.6"/>
<line x1="98.60" y1="169.69" x2="98.60" y2="168.95" stroke="#10156a" stroke-width="0.75"/>
<line x1="97.40" y1="168.95" x2="99.80" y2="168.95" stroke="#10156a" stroke-width="0.8"/>
<rect x="101.55" y="161.87" width="2.60" height="23.43" fill="#2432e0" stroke="#141e9c" stroke-width="0.6"/>
<line x1="102.85" y1="162.17" x2="102.85" y2="159.22" stroke="#10156a" stroke-width="0.75"/>
<line x1="101.65" y1="159.22" x2="104.05" y2="159.22" stroke="#10156a" stroke-width="0.8"/>
<rect x="105.80" y="149.50" width="2.60" height="35.80" fill="#2432e0" stroke="#141e9c" stroke-width="0.6"/>
<line x1="107.10" y1="149.80" x2="107.10" y2="145.96" stroke="#10156a" stroke-width="0.75"/>
<line x1="105.90" y1="145.96" x2="108.30" y2="145.96" stroke="#10156a" stroke-width="0.8"/>
<text x="98.60" y="194.30" font-size="7.0" text-anchor="middle" font-weight="normal" fill="#111" style="color:#111" >01234</text>
<rect x="113.55" y="180.88" width="2.60" height="4.42" fill="#5a96ea" stroke="#3566b8" stroke-width="0.6"/>
<rect x="117.80" y="176.46" width="2.60" height="8.84" fill="#5a96ea" stroke="#3566b8" stroke-width="0.6"/>
<line x1="119.10" y1="176.76" x2="119.10" y2="176.24" stroke="#1f3468" stroke-width="0.75"/>
<line x1="117.90" y1="176.24" x2="120.30" y2="176.24" stroke="#1f3468" stroke-width="0.8"/>
<rect x="122.05" y="169.39" width="2.60" height="15.91" fill="#5a96ea" stroke="#3566b8" stroke-width="0.6"/>
<line x1="123.35" y1="169.69" x2="123.35" y2="168.95" stroke="#1f3468" stroke-width="0.75"/>
<line x1="122.15" y1="168.95" x2="124.55" y2="168.95" stroke="#1f3468" stroke-width="0.8"/>
<rect x="126.30" y="159.66" width="2.60" height="25.64" fill="#5a96ea" stroke="#3566b8" stroke-width="0.6"/>
<line x1="127.60" y1="159.96" x2="127.60" y2="159.22" stroke="#1f3468" stroke-width="0.75"/>
<line x1="126.40" y1="159.22" x2="128.80" y2="159.22" stroke="#1f3468" stroke-width="0.8"/>
<rect x="130.55" y="144.64" width="2.60" height="40.66" fill="#5a96ea" stroke="#3566b8" stroke-width="0.6"/>
<line x1="131.85" y1="144.94" x2="131.85" y2="143.31" stroke="#1f3468" stroke-width="0.75"/>
<line x1="130.65" y1="143.31" x2="133.05" y2="143.31" stroke="#1f3468" stroke-width="0.8"/>
<text x="123.35" y="194.30" font-size="7.0" text-anchor="middle" font-weight="normal" fill="#111" style="color:#111" >01234</text>
<text x="87.00" y="122.60" font-size="8.0" text-anchor="middle" font-weight="normal" fill="#111" style="color:#111" >HL-60</text>
<text x="86.80" y="202.30" font-size="7.0" text-anchor="middle" font-weight="normal" fill="#111" style="color:#111" >Days</text>
<line x1="150.50" y1="118.50" x2="150.50" y2="185.90" stroke="#222" stroke-width="0.95"/>
<line x1="150.50" y1="185.50" x2="250.30" y2="185.50" stroke="#222" stroke-width="0.95"/>
<line x1="148.50" y1="185.50" x2="150.50" y2="185.50" stroke="#222" stroke-width="0.95"/>
<text x="147.80" y="188.47" font-size="7.0" text-anchor="end" font-weight="normal" fill="#111" style="color:#111" >0</text>
<line x1="148.50" y1="163.30" x2="150.50" y2="163.30" stroke="#222" stroke-width="0.95"/>
<text x="147.80" y="166.27" font-size="7.0" text-anchor="end" font-weight="normal" fill="#111" style="color:#111" >5</text>
<line x1="148.50" y1="141.10" x2="150.50" y2="141.10" stroke="#222" stroke-width="0.95"/>
<text x="147.80" y="144.07" font-size="7.0" text-anchor="end" font-weight="normal" fill="#111" style="color:#111" >10</text>
<line x1="148.50" y1="118.90" x2="150.50" y2="118.90" stroke="#222" stroke-width="0.95"/>
<text x="147.80" y="121.87" font-size="7.0" text-anchor="end" font-weight="normal" fill="#111" style="color:#111" >15</text>
<rect x="153.00" y="181.06" width="2.60" height="4.44" fill="#050505" stroke="#000000" stroke-width="0.6"/>
<rect x="157.25" y="175.73" width="2.60" height="9.77" fill="#050505" stroke="#000000" stroke-width="0.6"/>
<line x1="158.55" y1="176.03" x2="158.55" y2="175.29" stroke="#222" stroke-width="0.75"/>
<line x1="157.35" y1="175.29" x2="159.75" y2="175.29" stroke="#222" stroke-width="0.8"/>
<rect x="161.50" y="168.63" width="2.60" height="16.87" fill="#050505" stroke="#000000" stroke-width="0.6"/>
<line x1="162.80" y1="168.93" x2="162.80" y2="168.18" stroke="#222" stroke-width="0.75"/>
<line x1="161.60" y1="168.18" x2="164.00" y2="168.18" stroke="#222" stroke-width="0.8"/>
<rect x="165.75" y="151.76" width="2.60" height="33.74" fill="#050505" stroke="#000000" stroke-width="0.6"/>
<line x1="167.05" y1="152.06" x2="167.05" y2="150.42" stroke="#222" stroke-width="0.75"/>
<line x1="165.85" y1="150.42" x2="168.25" y2="150.42" stroke="#222" stroke-width="0.8"/>
<rect x="170.00" y="128.67" width="2.60" height="56.83" fill="#050505" stroke="#000000" stroke-width="0.6"/>
<line x1="171.30" y1="128.97" x2="171.30" y2="127.34" stroke="#222" stroke-width="0.75"/>
<line x1="170.10" y1="127.34" x2="172.50" y2="127.34" stroke="#222" stroke-width="0.8"/>
<text x="162.80" y="194.30" font-size="7.0" text-anchor="middle" font-weight="normal" fill="#111" style="color:#111" >01234</text>
<rect x="177.75" y="181.06" width="2.60" height="4.44" fill="#1b1f9c" stroke="#090b58" stroke-width="0.6"/>
<rect x="182.00" y="175.73" width="2.60" height="9.77" fill="#1b1f9c" stroke="#090b58" stroke-width="0.6"/>
<line x1="183.30" y1="176.03" x2="183.30" y2="175.29" stroke="#0a0c40" stroke-width="0.75"/>
<line x1="182.10" y1="175.29" x2="184.50" y2="175.29" stroke="#0a0c40" stroke-width="0.8"/>
<rect x="186.25" y="170.40" width="2.60" height="15.10" fill="#1b1f9c" stroke="#090b58" stroke-width="0.6"/>
<line x1="187.55" y1="170.70" x2="187.55" y2="169.96" stroke="#0a0c40" stroke-width="0.75"/>
<line x1="186.35" y1="169.96" x2="188.75" y2="169.96" stroke="#0a0c40" stroke-width="0.8"/>
<rect x="190.50" y="154.86" width="2.60" height="30.64" fill="#1b1f9c" stroke="#090b58" stroke-width="0.6"/>
<line x1="191.80" y1="155.16" x2="191.80" y2="152.20" stroke="#0a0c40" stroke-width="0.75"/>
<line x1="190.60" y1="152.20" x2="193.00" y2="152.20" stroke="#0a0c40" stroke-width="0.8"/>
<rect x="194.75" y="137.10" width="2.60" height="48.40" fill="#1b1f9c" stroke="#090b58" stroke-width="0.6"/>
<line x1="196.05" y1="137.40" x2="196.05" y2="134.44" stroke="#0a0c40" stroke-width="0.75"/>
<line x1="194.85" y1="134.44" x2="197.25" y2="134.44" stroke="#0a0c40" stroke-width="0.8"/>
<text x="187.55" y="194.30" font-size="7.0" text-anchor="middle" font-weight="normal" fill="#111" style="color:#111" >01234</text>
<rect x="202.50" y="181.06" width="2.60" height="4.44" fill="#2432e0" stroke="#141e9c" stroke-width="0.6"/>
<rect x="206.75" y="176.18" width="2.60" height="9.32" fill="#2432e0" stroke="#141e9c" stroke-width="0.6"/>
<line x1="208.05" y1="176.48" x2="208.05" y2="175.73" stroke="#10156a" stroke-width="0.75"/>
<line x1="206.85" y1="175.73" x2="209.25" y2="175.73" stroke="#10156a" stroke-width="0.8"/>
<rect x="211.00" y="170.85" width="2.60" height="14.65" fill="#2432e0" stroke="#141e9c" stroke-width="0.6"/>
<line x1="212.30" y1="171.15" x2="212.30" y2="170.40" stroke="#10156a" stroke-width="0.75"/>
<line x1="211.10" y1="170.40" x2="213.50" y2="170.40" stroke="#10156a" stroke-width="0.8"/>
<rect x="215.25" y="158.42" width="2.60" height="27.08" fill="#2432e0" stroke="#141e9c" stroke-width="0.6"/>
<line x1="216.55" y1="158.72" x2="216.55" y2="157.08" stroke="#10156a" stroke-width="0.75"/>
<line x1="215.35" y1="157.08" x2="217.75" y2="157.08" stroke="#10156a" stroke-width="0.8"/>
<rect x="219.50" y="140.21" width="2.60" height="45.29" fill="#2432e0" stroke="#141e9c" stroke-width="0.6"/>
<line x1="220.80" y1="140.51" x2="220.80" y2="139.32" stroke="#10156a" stroke-width="0.75"/>
<line x1="219.60" y1="139.32" x2="222.00" y2="139.32" stroke="#10156a" stroke-width="0.8"/>
<text x="212.30" y="194.30" font-size="7.0" text-anchor="middle" font-weight="normal" fill="#111" style="color:#111" >01234</text>
<rect x="227.25" y="181.06" width="2.60" height="4.44" fill="#5a96ea" stroke="#3566b8" stroke-width="0.6"/>
<rect x="231.50" y="173.96" width="2.60" height="11.54" fill="#5a96ea" stroke="#3566b8" stroke-width="0.6"/>
<line x1="232.80" y1="174.26" x2="232.80" y2="173.51" stroke="#1f3468" stroke-width="0.75"/>
<line x1="231.60" y1="173.51" x2="234.00" y2="173.51" stroke="#1f3468" stroke-width="0.8"/>
<rect x="235.75" y="168.63" width="2.60" height="16.87" fill="#5a96ea" stroke="#3566b8" stroke-width="0.6"/>
<line x1="237.05" y1="168.93" x2="237.05" y2="168.18" stroke="#1f3468" stroke-width="0.75"/>
<line x1="235.85" y1="168.18" x2="238.25" y2="168.18" stroke="#1f3468" stroke-width="0.8"/>
<rect x="240.00" y="155.75" width="2.60" height="29.75" fill="#5a96ea" stroke="#3566b8" stroke-width="0.6"/>
<line x1="241.30" y1="156.05" x2="241.30" y2="153.98" stroke="#1f3468" stroke-width="0.75"/>
<line x1="240.10" y1="153.98" x2="242.50" y2="153.98" stroke="#1f3468" stroke-width="0.8"/>
<rect x="244.25" y="139.77" width="2.60" height="45.73" fill="#5a96ea" stroke="#3566b8" stroke-width="0.6"/>
<line x1="245.55" y1="140.07" x2="245.55" y2="137.99" stroke="#1f3468" stroke-width="0.75"/>
<line x1="244.35" y1="137.99" x2="246.75" y2="137.99" stroke="#1f3468" stroke-width="0.8"/>
<text x="237.05" y="194.30" font-size="7.0" text-anchor="middle" font-weight="normal" fill="#111" style="color:#111" >01234</text>
<text x="201.20" y="122.60" font-size="8.0" text-anchor="middle" font-weight="normal" fill="#111" style="color:#111" >K562</text>
<text x="200.60" y="202.30" font-size="7.0" text-anchor="middle" font-weight="normal" fill="#111" style="color:#111" >Days</text>
<line x1="266.50" y1="118.50" x2="266.50" y2="185.90" stroke="#222" stroke-width="0.95"/>
<line x1="266.50" y1="185.50" x2="367.00" y2="185.50" stroke="#222" stroke-width="0.95"/>
<line x1="264.50" y1="185.50" x2="266.50" y2="185.50" stroke="#222" stroke-width="0.95"/>
<text x="263.80" y="188.47" font-size="7.0" text-anchor="end" font-weight="normal" fill="#111" style="color:#111" >0</text>
<line x1="264.50" y1="168.85" x2="266.50" y2="168.85" stroke="#222" stroke-width="0.95"/>
<text x="263.80" y="171.82" font-size="7.0" text-anchor="end" font-weight="normal" fill="#111" style="color:#111" >10</text>
<line x1="264.50" y1="152.20" x2="266.50" y2="152.20" stroke="#222" stroke-width="0.95"/>
<text x="263.80" y="155.17" font-size="7.0" text-anchor="end" font-weight="normal" fill="#111" style="color:#111" >20</text>
<line x1="264.50" y1="135.55" x2="266.50" y2="135.55" stroke="#222" stroke-width="0.95"/>
<text x="263.80" y="138.52" font-size="7.0" text-anchor="end" font-weight="normal" fill="#111" style="color:#111" >30</text>
<line x1="264.50" y1="118.90" x2="266.50" y2="118.90" stroke="#222" stroke-width="0.95"/>
<text x="263.80" y="121.87" font-size="7.0" text-anchor="end" font-weight="normal" fill="#111" style="color:#111" >40</text>
<rect x="268.90" y="184.33" width="2.60" height="1.17" fill="#050505" stroke="#000000" stroke-width="0.6"/>
<rect x="273.15" y="180.50" width="2.60" height="4.99" fill="#050505" stroke="#000000" stroke-width="0.6"/>
<line x1="274.45" y1="180.81" x2="274.45" y2="180.34" stroke="#222" stroke-width="0.75"/>
<line x1="273.25" y1="180.34" x2="275.65" y2="180.34" stroke="#222" stroke-width="0.8"/>
<rect x="277.40" y="166.35" width="2.60" height="19.15" fill="#050505" stroke="#000000" stroke-width="0.6"/>
<line x1="278.70" y1="166.65" x2="278.70" y2="165.85" stroke="#222" stroke-width="0.75"/>
<line x1="277.50" y1="165.85" x2="279.90" y2="165.85" stroke="#222" stroke-width="0.8"/>
<rect x="281.65" y="152.53" width="2.60" height="32.97" fill="#050505" stroke="#000000" stroke-width="0.6"/>
<line x1="282.95" y1="152.83" x2="282.95" y2="152.03" stroke="#222" stroke-width="0.75"/>
<line x1="281.75" y1="152.03" x2="284.15" y2="152.03" stroke="#222" stroke-width="0.8"/>
<rect x="285.90" y="151.70" width="2.60" height="33.80" fill="#050505" stroke="#000000" stroke-width="0.6"/>
<line x1="287.20" y1="152.00" x2="287.20" y2="151.20" stroke="#222" stroke-width="0.75"/>
<line x1="286.00" y1="151.20" x2="288.40" y2="151.20" stroke="#222" stroke-width="0.8"/>
<text x="278.70" y="194.30" font-size="7.0" text-anchor="middle" font-weight="normal" fill="#111" style="color:#111" >01234</text>
<rect x="293.60" y="184.50" width="2.60" height="1.00" fill="#1b1f9c" stroke="#090b58" stroke-width="0.6"/>
<rect x="297.85" y="182.67" width="2.60" height="2.83" fill="#1b1f9c" stroke="#090b58" stroke-width="0.6"/>
<line x1="299.15" y1="182.97" x2="299.15" y2="182.50" stroke="#0a0c40" stroke-width="0.75"/>
<line x1="297.95" y1="182.50" x2="300.35" y2="182.50" stroke="#0a0c40" stroke-width="0.8"/>
<rect x="302.10" y="175.01" width="2.60" height="10.49" fill="#1b1f9c" stroke="#090b58" stroke-width="0.6"/>
<line x1="303.40" y1="175.31" x2="303.40" y2="174.68" stroke="#0a0c40" stroke-width="0.75"/>
<line x1="302.20" y1="174.68" x2="304.60" y2="174.68" stroke="#0a0c40" stroke-width="0.8"/>
<rect x="306.35" y="168.52" width="2.60" height="16.98" fill="#1b1f9c" stroke="#090b58" stroke-width="0.6"/>
<line x1="307.65" y1="168.82" x2="307.65" y2="168.18" stroke="#0a0c40" stroke-width="0.75"/>
<line x1="306.45" y1="168.18" x2="308.85" y2="168.18" stroke="#0a0c40" stroke-width="0.8"/>
<rect x="310.60" y="150.53" width="2.60" height="34.96" fill="#1b1f9c" stroke="#090b58" stroke-width="0.6"/>
<line x1="311.90" y1="150.84" x2="311.90" y2="149.87" stroke="#0a0c40" stroke-width="0.75"/>
<line x1="310.70" y1="149.87" x2="313.10" y2="149.87" stroke="#0a0c40" stroke-width="0.8"/>
<text x="303.40" y="194.30" font-size="7.0" text-anchor="middle" font-weight="normal" fill="#111" style="color:#111" >01234</text>
<rect x="318.30" y="184.67" width="2.60" height="0.83" fill="#2432e0" stroke="#141e9c" stroke-width="0.6"/>
<rect x="322.55" y="181.00" width="2.60" height="4.50" fill="#2432e0" stroke="#141e9c" stroke-width="0.6"/>
<line x1="323.85" y1="181.30" x2="323.85" y2="180.84" stroke="#10156a" stroke-width="0.75"/>
<line x1="322.65" y1="180.84" x2="325.05" y2="180.84" stroke="#10156a" stroke-width="0.8"/>
<rect x="326.80" y="171.85" width="2.60" height="13.65" fill="#2432e0" stroke="#141e9c" stroke-width="0.6"/>
<line x1="328.10" y1="172.15" x2="328.10" y2="171.35" stroke="#10156a" stroke-width="0.75"/>
<line x1="326.90" y1="171.35" x2="329.30" y2="171.35" stroke="#10156a" stroke-width="0.8"/>
<rect x="331.05" y="159.69" width="2.60" height="25.81" fill="#2432e0" stroke="#141e9c" stroke-width="0.6"/>
<line x1="332.35" y1="159.99" x2="332.35" y2="159.03" stroke="#10156a" stroke-width="0.75"/>
<line x1="331.15" y1="159.03" x2="333.55" y2="159.03" stroke="#10156a" stroke-width="0.8"/>
<rect x="335.30" y="133.05" width="2.60" height="52.45" fill="#2432e0" stroke="#141e9c" stroke-width="0.6"/>
<line x1="336.60" y1="133.35" x2="336.60" y2="131.89" stroke="#10156a" stroke-width="0.75"/>
<line x1="335.40" y1="131.89" x2="337.80" y2="131.89" stroke="#10156a" stroke-width="0.8"/>
<text x="328.10" y="194.30" font-size="7.0" text-anchor="middle" font-weight="normal" fill="#111" style="color:#111" >01234</text>
<rect x="343.00" y="184.67" width="2.60" height="0.83" fill="#5a96ea" stroke="#3566b8" stroke-width="0.6"/>
<rect x="347.25" y="181.00" width="2.60" height="4.50" fill="#5a96ea" stroke="#3566b8" stroke-width="0.6"/>
<line x1="348.55" y1="181.30" x2="348.55" y2="180.67" stroke="#1f3468" stroke-width="0.75"/>
<line x1="347.35" y1="180.67" x2="349.75" y2="180.67" stroke="#1f3468" stroke-width="0.8"/>
<rect x="351.50" y="171.85" width="2.60" height="13.65" fill="#5a96ea" stroke="#3566b8" stroke-width="0.6"/>
<line x1="352.80" y1="172.15" x2="352.80" y2="171.35" stroke="#1f3468" stroke-width="0.75"/>
<line x1="351.60" y1="171.35" x2="354.00" y2="171.35" stroke="#1f3468" stroke-width="0.8"/>
<rect x="355.75" y="160.86" width="2.60" height="24.64" fill="#5a96ea" stroke="#3566b8" stroke-width="0.6"/>
<line x1="357.05" y1="161.16" x2="357.05" y2="159.53" stroke="#1f3468" stroke-width="0.75"/>
<line x1="355.85" y1="159.53" x2="358.25" y2="159.53" stroke="#1f3468" stroke-width="0.8"/>
<rect x="360.00" y="157.86" width="2.60" height="27.64" fill="#5a96ea" stroke="#3566b8" stroke-width="0.6"/>
<line x1="361.30" y1="158.16" x2="361.30" y2="157.03" stroke="#1f3468" stroke-width="0.75"/>
<line x1="360.10" y1="157.03" x2="362.50" y2="157.03" stroke="#1f3468" stroke-width="0.8"/>
<text x="352.80" y="194.30" font-size="7.0" text-anchor="middle" font-weight="normal" fill="#111" style="color:#111" >01234</text>
<text x="318.00" y="122.60" font-size="8.0" text-anchor="middle" font-weight="normal" fill="#111" style="color:#111" >NB4</text>
<text x="317.00" y="202.30" font-size="7.0" text-anchor="middle" font-weight="normal" fill="#111" style="color:#111" >Days</text>
<line x1="382.50" y1="118.50" x2="382.50" y2="185.90" stroke="#222" stroke-width="0.95"/>
<line x1="382.50" y1="185.50" x2="483.00" y2="185.50" stroke="#222" stroke-width="0.95"/>
<line x1="380.50" y1="185.50" x2="382.50" y2="185.50" stroke="#222" stroke-width="0.95"/>
<text x="379.80" y="188.47" font-size="7.0" text-anchor="end" font-weight="normal" fill="#111" style="color:#111" >0</text>
<line x1="380.50" y1="168.85" x2="382.50" y2="168.85" stroke="#222" stroke-width="0.95"/>
<text x="379.80" y="171.82" font-size="7.0" text-anchor="end" font-weight="normal" fill="#111" style="color:#111" >5</text>
<line x1="380.50" y1="152.20" x2="382.50" y2="152.20" stroke="#222" stroke-width="0.95"/>
<text x="379.80" y="155.17" font-size="7.0" text-anchor="end" font-weight="normal" fill="#111" style="color:#111" >10</text>
<line x1="380.50" y1="135.55" x2="382.50" y2="135.55" stroke="#222" stroke-width="0.95"/>
<text x="379.80" y="138.52" font-size="7.0" text-anchor="end" font-weight="normal" fill="#111" style="color:#111" >15</text>
<line x1="380.50" y1="118.90" x2="382.50" y2="118.90" stroke="#222" stroke-width="0.95"/>
<text x="379.80" y="121.87" font-size="7.0" text-anchor="end" font-weight="normal" fill="#111" style="color:#111" >20</text>
<rect x="385.30" y="182.17" width="2.60" height="3.33" fill="#050505" stroke="#000000" stroke-width="0.6"/>
<rect x="389.55" y="178.51" width="2.60" height="6.99" fill="#050505" stroke="#000000" stroke-width="0.6"/>
<line x1="390.85" y1="178.81" x2="390.85" y2="178.17" stroke="#222" stroke-width="0.75"/>
<line x1="389.65" y1="178.17" x2="392.05" y2="178.17" stroke="#222" stroke-width="0.8"/>
<rect x="393.80" y="159.53" width="2.60" height="25.97" fill="#050505" stroke="#000000" stroke-width="0.6"/>
<line x1="395.10" y1="159.83" x2="395.10" y2="158.86" stroke="#222" stroke-width="0.75"/>
<line x1="393.90" y1="158.86" x2="396.30" y2="158.86" stroke="#222" stroke-width="0.8"/>
<rect x="398.05" y="150.53" width="2.60" height="34.96" fill="#050505" stroke="#000000" stroke-width="0.6"/>
<line x1="399.35" y1="150.84" x2="399.35" y2="148.54" stroke="#222" stroke-width="0.75"/>
<line x1="398.15" y1="148.54" x2="400.55" y2="148.54" stroke="#222" stroke-width="0.8"/>
<rect x="402.30" y="146.87" width="2.60" height="38.63" fill="#050505" stroke="#000000" stroke-width="0.6"/>
<line x1="403.60" y1="147.17" x2="403.60" y2="144.21" stroke="#222" stroke-width="0.75"/>
<line x1="402.40" y1="144.21" x2="404.80" y2="144.21" stroke="#222" stroke-width="0.8"/>
<text x="395.10" y="194.30" font-size="7.0" text-anchor="middle" font-weight="normal" fill="#111" style="color:#111" >01234</text>
<rect x="410.10" y="182.17" width="2.60" height="3.33" fill="#1b1f9c" stroke="#090b58" stroke-width="0.6"/>
<rect x="414.35" y="175.84" width="2.60" height="9.66" fill="#1b1f9c" stroke="#090b58" stroke-width="0.6"/>
<line x1="415.65" y1="176.14" x2="415.65" y2="175.51" stroke="#0a0c40" stroke-width="0.75"/>
<line x1="414.45" y1="175.51" x2="416.85" y2="175.51" stroke="#0a0c40" stroke-width="0.8"/>
<rect x="418.60" y="162.86" width="2.60" height="22.64" fill="#1b1f9c" stroke="#090b58" stroke-width="0.6"/>
<line x1="419.90" y1="163.16" x2="419.90" y2="162.19" stroke="#0a0c40" stroke-width="0.75"/>
<line x1="418.70" y1="162.19" x2="421.10" y2="162.19" stroke="#0a0c40" stroke-width="0.8"/>
<rect x="422.85" y="140.21" width="2.60" height="45.29" fill="#1b1f9c" stroke="#090b58" stroke-width="0.6"/>
<line x1="424.15" y1="140.51" x2="424.15" y2="138.55" stroke="#0a0c40" stroke-width="0.75"/>
<line x1="422.95" y1="138.55" x2="425.35" y2="138.55" stroke="#0a0c40" stroke-width="0.8"/>
<rect x="427.10" y="130.22" width="2.60" height="55.28" fill="#1b1f9c" stroke="#090b58" stroke-width="0.6"/>
<line x1="428.40" y1="130.52" x2="428.40" y2="129.56" stroke="#0a0c40" stroke-width="0.75"/>
<line x1="427.20" y1="129.56" x2="429.60" y2="129.56" stroke="#0a0c40" stroke-width="0.8"/>
<text x="419.90" y="194.30" font-size="7.0" text-anchor="middle" font-weight="normal" fill="#111" style="color:#111" >01234</text>
<rect x="434.90" y="182.34" width="2.60" height="3.16" fill="#2432e0" stroke="#141e9c" stroke-width="0.6"/>
<rect x="439.15" y="176.18" width="2.60" height="9.32" fill="#2432e0" stroke="#141e9c" stroke-width="0.6"/>
<line x1="440.45" y1="176.48" x2="440.45" y2="175.84" stroke="#10156a" stroke-width="0.75"/>
<line x1="439.25" y1="175.84" x2="441.65" y2="175.84" stroke="#10156a" stroke-width="0.8"/>
<rect x="443.40" y="165.52" width="2.60" height="19.98" fill="#2432e0" stroke="#141e9c" stroke-width="0.6"/>
<line x1="444.70" y1="165.82" x2="444.70" y2="165.19" stroke="#10156a" stroke-width="0.75"/>
<line x1="443.50" y1="165.19" x2="445.90" y2="165.19" stroke="#10156a" stroke-width="0.8"/>
<rect x="447.65" y="154.20" width="2.60" height="31.30" fill="#2432e0" stroke="#141e9c" stroke-width="0.6"/>
<line x1="448.95" y1="154.50" x2="448.95" y2="153.53" stroke="#10156a" stroke-width="0.75"/>
<line x1="447.75" y1="153.53" x2="450.15" y2="153.53" stroke="#10156a" stroke-width="0.8"/>
<rect x="451.90" y="147.54" width="2.60" height="37.96" fill="#2432e0" stroke="#141e9c" stroke-width="0.6"/>
<line x1="453.20" y1="147.84" x2="453.20" y2="146.87" stroke="#10156a" stroke-width="0.75"/>
<line x1="452.00" y1="146.87" x2="454.40" y2="146.87" stroke="#10156a" stroke-width="0.8"/>
<text x="444.70" y="194.30" font-size="7.0" text-anchor="middle" font-weight="normal" fill="#111" style="color:#111" >01234</text>
<rect x="459.70" y="182.34" width="2.60" height="3.16" fill="#5a96ea" stroke="#3566b8" stroke-width="0.6"/>
<rect x="463.95" y="177.51" width="2.60" height="7.99" fill="#5a96ea" stroke="#3566b8" stroke-width="0.6"/>
<line x1="465.25" y1="177.81" x2="465.25" y2="177.18" stroke="#1f3468" stroke-width="0.75"/>
<line x1="464.05" y1="177.18" x2="466.45" y2="177.18" stroke="#1f3468" stroke-width="0.8"/>
<rect x="468.20" y="166.85" width="2.60" height="18.65" fill="#5a96ea" stroke="#3566b8" stroke-width="0.6"/>
<line x1="469.50" y1="167.15" x2="469.50" y2="166.52" stroke="#1f3468" stroke-width="0.75"/>
<line x1="468.30" y1="166.52" x2="470.70" y2="166.52" stroke="#1f3468" stroke-width="0.8"/>
<rect x="472.45" y="152.53" width="2.60" height="32.97" fill="#5a96ea" stroke="#3566b8" stroke-width="0.6"/>
<line x1="473.75" y1="152.83" x2="473.75" y2="151.87" stroke="#1f3468" stroke-width="0.75"/>
<line x1="472.55" y1="151.87" x2="474.95" y2="151.87" stroke="#1f3468" stroke-width="0.8"/>
<rect x="476.70" y="136.88" width="2.60" height="48.62" fill="#5a96ea" stroke="#3566b8" stroke-width="0.6"/>
<line x1="478.00" y1="137.18" x2="478.00" y2="135.88" stroke="#1f3468" stroke-width="0.75"/>
<line x1="476.80" y1="135.88" x2="479.20" y2="135.88" stroke="#1f3468" stroke-width="0.8"/>
<text x="469.50" y="194.30" font-size="7.0" text-anchor="middle" font-weight="normal" fill="#111" style="color:#111" >01234</text>
<text x="433.80" y="122.60" font-size="8.0" text-anchor="middle" font-weight="normal" fill="#111" style="color:#111" >U937</text>
<text x="433.20" y="202.30" font-size="7.0" text-anchor="middle" font-weight="normal" fill="#111" style="color:#111" >Days</text>
<text x="0.80" y="226.40" font-size="11.6" text-anchor="start" font-weight="bold" fill="#000" style="color:#000" >B</text>
<text x="0" y="0" font-size="7.1" text-anchor="middle" fill="#111" style="color:#111" transform="translate(21.20,259.80) rotate(-90)">Relative proliferation</text>
<line x1="36.00" y1="225.50" x2="36.00" y2="293.60" stroke="#222" stroke-width="0.95"/>
<line x1="36.00" y1="293.20" x2="137.40" y2="293.20" stroke="#222" stroke-width="0.95"/>
<line x1="34.00" y1="293.20" x2="36.00" y2="293.20" stroke="#222" stroke-width="0.95"/>
<text x="33.30" y="296.17" font-size="7.0" text-anchor="end" font-weight="normal" fill="#111" style="color:#111" >0</text>
<line x1="34.00" y1="279.74" x2="36.00" y2="279.74" stroke="#222" stroke-width="0.95"/>
<text x="33.30" y="282.71" font-size="7.0" text-anchor="end" font-weight="normal" fill="#111" style="color:#111" >20</text>
<line x1="34.00" y1="266.28" x2="36.00" y2="266.28" stroke="#222" stroke-width="0.95"/>
<text x="33.30" y="269.25" font-size="7.0" text-anchor="end" font-weight="normal" fill="#111" style="color:#111" >40</text>
<line x1="34.00" y1="252.82" x2="36.00" y2="252.82" stroke="#222" stroke-width="0.95"/>
<text x="33.30" y="255.79" font-size="7.0" text-anchor="end" font-weight="normal" fill="#111" style="color:#111" >60</text>
<line x1="34.00" y1="239.36" x2="36.00" y2="239.36" stroke="#222" stroke-width="0.95"/>
<text x="33.30" y="242.33" font-size="7.0" text-anchor="end" font-weight="normal" fill="#111" style="color:#111" >80</text>
<line x1="34.00" y1="225.90" x2="36.00" y2="225.90" stroke="#222" stroke-width="0.95"/>
<text x="33.30" y="228.87" font-size="7.0" text-anchor="end" font-weight="normal" fill="#111" style="color:#111" >100</text>
<rect x="38.80" y="292.60" width="2.60" height="0.60" fill="#050505" stroke="#000000" stroke-width="0.6"/>
<rect x="43.05" y="290.51" width="2.60" height="2.69" fill="#050505" stroke="#000000" stroke-width="0.6"/>
<line x1="44.35" y1="290.81" x2="44.35" y2="289.83" stroke="#222" stroke-width="0.75"/>
<line x1="43.15" y1="289.83" x2="45.55" y2="289.83" stroke="#222" stroke-width="0.8"/>
<rect x="47.30" y="287.82" width="2.60" height="5.38" fill="#050505" stroke="#000000" stroke-width="0.6"/>
<line x1="48.60" y1="288.12" x2="48.60" y2="287.14" stroke="#222" stroke-width="0.75"/>
<line x1="47.40" y1="287.14" x2="49.80" y2="287.14" stroke="#222" stroke-width="0.8"/>
<rect x="51.55" y="266.28" width="2.60" height="26.92" fill="#050505" stroke="#000000" stroke-width="0.6"/>
<line x1="52.85" y1="266.58" x2="52.85" y2="261.57" stroke="#222" stroke-width="0.75"/>
<line x1="51.65" y1="261.57" x2="54.05" y2="261.57" stroke="#222" stroke-width="0.8"/>
<rect x="55.80" y="249.45" width="2.60" height="43.74" fill="#050505" stroke="#000000" stroke-width="0.6"/>
<line x1="57.10" y1="249.75" x2="57.10" y2="241.38" stroke="#222" stroke-width="0.75"/>
<line x1="55.90" y1="241.38" x2="58.30" y2="241.38" stroke="#222" stroke-width="0.8"/>
<text x="48.60" y="301.70" font-size="7.0" text-anchor="middle" font-weight="normal" fill="#111" style="color:#111" >01234</text>
<rect x="63.70" y="292.60" width="2.60" height="0.60" fill="#1b1f9c" stroke="#090b58" stroke-width="0.6"/>
<rect x="67.95" y="292.19" width="2.60" height="1.01" fill="#1b1f9c" stroke="#090b58" stroke-width="0.6"/>
<line x1="69.25" y1="292.49" x2="69.25" y2="291.99" stroke="#0a0c40" stroke-width="0.75"/>
<line x1="68.05" y1="291.99" x2="70.45" y2="291.99" stroke="#0a0c40" stroke-width="0.8"/>
<rect x="72.20" y="290.84" width="2.60" height="2.36" fill="#1b1f9c" stroke="#090b58" stroke-width="0.6"/>
<line x1="73.50" y1="291.14" x2="73.50" y2="290.51" stroke="#0a0c40" stroke-width="0.75"/>
<line x1="72.30" y1="290.51" x2="74.70" y2="290.51" stroke="#0a0c40" stroke-width="0.8"/>
<rect x="76.45" y="282.43" width="2.60" height="10.77" fill="#1b1f9c" stroke="#090b58" stroke-width="0.6"/>
<line x1="77.75" y1="282.73" x2="77.75" y2="281.76" stroke="#0a0c40" stroke-width="0.75"/>
<line x1="76.55" y1="281.76" x2="78.95" y2="281.76" stroke="#0a0c40" stroke-width="0.8"/>
<rect x="80.70" y="271.66" width="2.60" height="21.54" fill="#1b1f9c" stroke="#090b58" stroke-width="0.6"/>
<line x1="82.00" y1="271.96" x2="82.00" y2="270.65" stroke="#0a0c40" stroke-width="0.75"/>
<line x1="80.80" y1="270.65" x2="83.20" y2="270.65" stroke="#0a0c40" stroke-width="0.8"/>
<text x="73.50" y="301.70" font-size="7.0" text-anchor="middle" font-weight="normal" fill="#111" style="color:#111" >01234</text>
<rect x="88.60" y="292.60" width="2.60" height="0.60" fill="#2432e0" stroke="#141e9c" stroke-width="0.6"/>
<rect x="92.85" y="292.60" width="2.60" height="0.60" fill="#2432e0" stroke="#141e9c" stroke-width="0.6"/>
<line x1="94.15" y1="292.90" x2="94.15" y2="292.47" stroke="#10156a" stroke-width="0.75"/>
<line x1="92.95" y1="292.47" x2="95.35" y2="292.47" stroke="#10156a" stroke-width="0.8"/>
<rect x="97.10" y="291.99" width="2.60" height="1.21" fill="#2432e0" stroke="#141e9c" stroke-width="0.6"/>
<line x1="98.40" y1="292.29" x2="98.40" y2="291.79" stroke="#10156a" stroke-width="0.75"/>
<line x1="97.20" y1="291.79" x2="99.60" y2="291.79" stroke="#10156a" stroke-width="0.8"/>
<rect x="101.35" y="291.05" width="2.60" height="2.15" fill="#2432e0" stroke="#141e9c" stroke-width="0.6"/>
<line x1="102.65" y1="291.35" x2="102.65" y2="290.78" stroke="#10156a" stroke-width="0.75"/>
<line x1="101.45" y1="290.78" x2="103.85" y2="290.78" stroke="#10156a" stroke-width="0.8"/>
<rect x="105.60" y="287.82" width="2.60" height="5.38" fill="#2432e0" stroke="#141e9c" stroke-width="0.6"/>
<line x1="106.90" y1="288.12" x2="106.90" y2="287.41" stroke="#10156a" stroke-width="0.75"/>
<line x1="105.70" y1="287.41" x2="108.10" y2="287.41" stroke="#10156a" stroke-width="0.8"/>
<text x="98.40" y="301.70" font-size="7.0" text-anchor="middle" font-weight="normal" fill="#111" style="color:#111" >01234</text>
<rect x="113.50" y="292.60" width="2.60" height="0.60" fill="#5a96ea" stroke="#3566b8" stroke-width="0.6"/>
<rect x="117.75" y="292.60" width="2.60" height="0.60" fill="#5a96ea" stroke="#3566b8" stroke-width="0.6"/>
<line x1="119.05" y1="292.90" x2="119.05" y2="292.47" stroke="#1f3468" stroke-width="0.75"/>
<line x1="117.85" y1="292.47" x2="120.25" y2="292.47" stroke="#1f3468" stroke-width="0.8"/>
<rect x="122.00" y="291.52" width="2.60" height="1.68" fill="#5a96ea" stroke="#3566b8" stroke-width="0.6"/>
<line x1="123.30" y1="291.82" x2="123.30" y2="291.32" stroke="#1f3468" stroke-width="0.75"/>
<line x1="122.10" y1="291.32" x2="124.50" y2="291.32" stroke="#1f3468" stroke-width="0.8"/>
<rect x="126.25" y="282.43" width="2.60" height="10.77" fill="#5a96ea" stroke="#3566b8" stroke-width="0.6"/>
<line x1="127.55" y1="282.73" x2="127.55" y2="281.89" stroke="#1f3468" stroke-width="0.75"/>
<line x1="126.35" y1="281.89" x2="128.75" y2="281.89" stroke="#1f3468" stroke-width="0.8"/>
<rect x="130.50" y="276.71" width="2.60" height="16.49" fill="#5a96ea" stroke="#3566b8" stroke-width="0.6"/>
<line x1="131.80" y1="277.01" x2="131.80" y2="275.90" stroke="#1f3468" stroke-width="0.75"/>
<line x1="130.60" y1="275.90" x2="133.00" y2="275.90" stroke="#1f3468" stroke-width="0.8"/>
<text x="123.30" y="301.70" font-size="7.0" text-anchor="middle" font-weight="normal" fill="#111" style="color:#111" >01234</text>
<text x="87.00" y="230.80" font-size="8.0" text-anchor="middle" font-weight="normal" fill="#111" style="color:#111" >ML-2</text>
<text x="86.60" y="310.30" font-size="7.0" text-anchor="middle" font-weight="normal" fill="#111" style="color:#111" >Days</text>
<line x1="153.40" y1="225.50" x2="153.40" y2="293.60" stroke="#222" stroke-width="0.95"/>
<line x1="153.40" y1="293.20" x2="254.80" y2="293.20" stroke="#222" stroke-width="0.95"/>
<line x1="151.40" y1="293.20" x2="153.40" y2="293.20" stroke="#222" stroke-width="0.95"/>
<text x="150.70" y="296.17" font-size="7.0" text-anchor="end" font-weight="normal" fill="#111" style="color:#111" >0</text>
<line x1="151.40" y1="276.38" x2="153.40" y2="276.38" stroke="#222" stroke-width="0.95"/>
<text x="150.70" y="279.34" font-size="7.0" text-anchor="end" font-weight="normal" fill="#111" style="color:#111" >10</text>
<line x1="151.40" y1="259.55" x2="153.40" y2="259.55" stroke="#222" stroke-width="0.95"/>
<text x="150.70" y="262.52" font-size="7.0" text-anchor="end" font-weight="normal" fill="#111" style="color:#111" >20</text>
<line x1="151.40" y1="242.72" x2="153.40" y2="242.72" stroke="#222" stroke-width="0.95"/>
<text x="150.70" y="245.69" font-size="7.0" text-anchor="end" font-weight="normal" fill="#111" style="color:#111" >30</text>
<line x1="151.40" y1="225.90" x2="153.40" y2="225.90" stroke="#222" stroke-width="0.95"/>
<text x="150.70" y="228.87" font-size="7.0" text-anchor="end" font-weight="normal" fill="#111" style="color:#111" >40</text>
<rect x="155.80" y="292.36" width="2.60" height="0.84" fill="#050505" stroke="#000000" stroke-width="0.6"/>
<rect x="160.05" y="286.81" width="2.60" height="6.39" fill="#050505" stroke="#000000" stroke-width="0.6"/>
<line x1="161.35" y1="287.11" x2="161.35" y2="284.28" stroke="#222" stroke-width="0.75"/>
<line x1="160.15" y1="284.28" x2="162.55" y2="284.28" stroke="#222" stroke-width="0.8"/>
<rect x="164.30" y="278.56" width="2.60" height="14.64" fill="#050505" stroke="#000000" stroke-width="0.6"/>
<line x1="165.60" y1="278.86" x2="165.60" y2="274.36" stroke="#222" stroke-width="0.75"/>
<line x1="164.40" y1="274.36" x2="166.80" y2="274.36" stroke="#222" stroke-width="0.8"/>
<rect x="168.55" y="265.44" width="2.60" height="27.76" fill="#050505" stroke="#000000" stroke-width="0.6"/>
<line x1="169.85" y1="265.74" x2="169.85" y2="262.91" stroke="#222" stroke-width="0.75"/>
<line x1="168.65" y1="262.91" x2="171.05" y2="262.91" stroke="#222" stroke-width="0.8"/>
<rect x="172.80" y="240.20" width="2.60" height="53.00" fill="#050505" stroke="#000000" stroke-width="0.6"/>
<line x1="174.10" y1="240.50" x2="174.10" y2="234.31" stroke="#222" stroke-width="0.75"/>
<line x1="172.90" y1="234.31" x2="175.30" y2="234.31" stroke="#222" stroke-width="0.8"/>
<text x="165.60" y="301.70" font-size="7.0" text-anchor="middle" font-weight="normal" fill="#111" style="color:#111" >01234</text>
<rect x="180.70" y="292.36" width="2.60" height="0.84" fill="#1b1f9c" stroke="#090b58" stroke-width="0.6"/>
<rect x="184.95" y="288.15" width="2.60" height="5.05" fill="#1b1f9c" stroke="#090b58" stroke-width="0.6"/>
<line x1="186.25" y1="288.45" x2="186.25" y2="287.65" stroke="#0a0c40" stroke-width="0.75"/>
<line x1="185.05" y1="287.65" x2="187.45" y2="287.65" stroke="#0a0c40" stroke-width="0.8"/>
<rect x="189.20" y="284.45" width="2.60" height="8.75" fill="#1b1f9c" stroke="#090b58" stroke-width="0.6"/>
<line x1="190.50" y1="284.75" x2="190.50" y2="283.78" stroke="#0a0c40" stroke-width="0.75"/>
<line x1="189.30" y1="283.78" x2="191.70" y2="283.78" stroke="#0a0c40" stroke-width="0.8"/>
<rect x="193.45" y="283.95" width="2.60" height="9.25" fill="#1b1f9c" stroke="#090b58" stroke-width="0.6"/>
<line x1="194.75" y1="284.25" x2="194.75" y2="283.10" stroke="#0a0c40" stroke-width="0.75"/>
<line x1="193.55" y1="283.10" x2="195.95" y2="283.10" stroke="#0a0c40" stroke-width="0.8"/>
<rect x="197.70" y="278.90" width="2.60" height="14.30" fill="#1b1f9c" stroke="#090b58" stroke-width="0.6"/>
<line x1="199.00" y1="279.20" x2="199.00" y2="276.38" stroke="#0a0c40" stroke-width="0.75"/>
<line x1="197.80" y1="276.38" x2="200.20" y2="276.38" stroke="#0a0c40" stroke-width="0.8"/>
<text x="190.50" y="301.70" font-size="7.0" text-anchor="middle" font-weight="normal" fill="#111" style="color:#111" >01234</text>
<rect x="205.60" y="292.36" width="2.60" height="0.84" fill="#2432e0" stroke="#141e9c" stroke-width="0.6"/>
<rect x="209.85" y="291.69" width="2.60" height="1.51" fill="#2432e0" stroke="#141e9c" stroke-width="0.6"/>
<line x1="211.15" y1="291.99" x2="211.15" y2="291.35" stroke="#10156a" stroke-width="0.75"/>
<line x1="209.95" y1="291.35" x2="212.35" y2="291.35" stroke="#10156a" stroke-width="0.8"/>
<rect x="214.10" y="291.85" width="2.60" height="1.35" fill="#2432e0" stroke="#141e9c" stroke-width="0.6"/>
<line x1="215.40" y1="292.15" x2="215.40" y2="291.52" stroke="#10156a" stroke-width="0.75"/>
<line x1="214.20" y1="291.52" x2="216.60" y2="291.52" stroke="#10156a" stroke-width="0.8"/>
<rect x="218.35" y="288.99" width="2.60" height="4.21" fill="#2432e0" stroke="#141e9c" stroke-width="0.6"/>
<line x1="219.65" y1="289.29" x2="219.65" y2="286.47" stroke="#10156a" stroke-width="0.75"/>
<line x1="218.45" y1="286.47" x2="220.85" y2="286.47" stroke="#10156a" stroke-width="0.8"/>
<rect x="222.60" y="285.12" width="2.60" height="8.08" fill="#2432e0" stroke="#141e9c" stroke-width="0.6"/>
<line x1="223.90" y1="285.42" x2="223.90" y2="278.39" stroke="#10156a" stroke-width="0.75"/>
<line x1="222.70" y1="278.39" x2="225.10" y2="278.39" stroke="#10156a" stroke-width="0.8"/>
<text x="215.40" y="301.70" font-size="7.0" text-anchor="middle" font-weight="normal" fill="#111" style="color:#111" >01234</text>
<rect x="230.50" y="292.36" width="2.60" height="0.84" fill="#5a96ea" stroke="#3566b8" stroke-width="0.6"/>
<rect x="234.75" y="291.52" width="2.60" height="1.68" fill="#5a96ea" stroke="#3566b8" stroke-width="0.6"/>
<line x1="236.05" y1="291.82" x2="236.05" y2="291.18" stroke="#1f3468" stroke-width="0.75"/>
<line x1="234.85" y1="291.18" x2="237.25" y2="291.18" stroke="#1f3468" stroke-width="0.8"/>
<rect x="239.00" y="290.51" width="2.60" height="2.69" fill="#5a96ea" stroke="#3566b8" stroke-width="0.6"/>
<line x1="240.30" y1="290.81" x2="240.30" y2="290.17" stroke="#1f3468" stroke-width="0.75"/>
<line x1="239.10" y1="290.17" x2="241.50" y2="290.17" stroke="#1f3468" stroke-width="0.8"/>
<rect x="243.25" y="290.17" width="2.60" height="3.03" fill="#5a96ea" stroke="#3566b8" stroke-width="0.6"/>
<line x1="244.55" y1="290.47" x2="244.55" y2="289.67" stroke="#1f3468" stroke-width="0.75"/>
<line x1="243.35" y1="289.67" x2="245.75" y2="289.67" stroke="#1f3468" stroke-width="0.8"/>
<rect x="247.50" y="288.15" width="2.60" height="5.05" fill="#5a96ea" stroke="#3566b8" stroke-width="0.6"/>
<line x1="248.80" y1="288.45" x2="248.80" y2="287.31" stroke="#1f3468" stroke-width="0.75"/>
<line x1="247.60" y1="287.31" x2="250.00" y2="287.31" stroke="#1f3468" stroke-width="0.8"/>
<text x="240.30" y="301.70" font-size="7.0" text-anchor="middle" font-weight="normal" fill="#111" style="color:#111" >01234</text>
<text x="204.20" y="230.80" font-size="8.0" text-anchor="middle" font-weight="normal" fill="#111" style="color:#111" >MV4-11</text>
<text x="203.40" y="310.30" font-size="7.0" text-anchor="middle" font-weight="normal" fill="#111" style="color:#111" >Days</text>
<rect x="239.70" y="225.20" width="9.00" height="5.00" fill="#050505" stroke="#000000" stroke-width="0.6"/>
<text x="252.80" y="230.29" font-size="7.2" text-anchor="start" font-weight="normal" fill="#111" style="color:#111" >shControl</text>
<rect x="239.70" y="235.60" width="9.00" height="5.00" fill="#1b1f9c" stroke="#090b58" stroke-width="0.6"/>
<text x="252.80" y="240.69" font-size="7.2" text-anchor="start" font-weight="normal" fill="#111" style="color:#111" >shCDK6_1</text>
<rect x="239.70" y="246.00" width="9.00" height="5.00" fill="#2432e0" stroke="#141e9c" stroke-width="0.6"/>
<text x="252.80" y="251.09" font-size="7.2" text-anchor="start" font-weight="normal" fill="#111" style="color:#111" >shCDK6_2</text>
<rect x="239.70" y="256.40" width="9.00" height="5.00" fill="#5a96ea" stroke="#3566b8" stroke-width="0.6"/>
<text x="252.80" y="261.49" font-size="7.2" text-anchor="start" font-weight="normal" fill="#111" style="color:#111" >shCDK6_3</text>
<text x="304.30" y="225.80" font-size="11.6" text-anchor="start" font-weight="bold" fill="#000" style="color:#000" >C</text>
<text x="0" y="0" font-size="7.1" text-anchor="middle" fill="#111" style="color:#111" transform="translate(319.00,260.00) rotate(-90)">Relative proliferation</text>
<line x1="332.50" y1="225.50" x2="332.50" y2="292.80" stroke="#222" stroke-width="0.95"/>
<line x1="332.50" y1="292.40" x2="432.80" y2="292.40" stroke="#222" stroke-width="0.95"/>
<line x1="330.50" y1="292.40" x2="332.50" y2="292.40" stroke="#222" stroke-width="0.95"/>
<text x="329.80" y="295.37" font-size="7.0" text-anchor="end" font-weight="normal" fill="#111" style="color:#111" >0</text>
<line x1="330.50" y1="270.23" x2="332.50" y2="270.23" stroke="#222" stroke-width="0.95"/>
<text x="329.80" y="273.20" font-size="7.0" text-anchor="end" font-weight="normal" fill="#111" style="color:#111" >5</text>
<line x1="330.50" y1="248.07" x2="332.50" y2="248.07" stroke="#222" stroke-width="0.95"/>
<text x="329.80" y="251.04" font-size="7.0" text-anchor="end" font-weight="normal" fill="#111" style="color:#111" >10</text>
<line x1="330.50" y1="225.90" x2="332.50" y2="225.90" stroke="#222" stroke-width="0.95"/>
<text x="329.80" y="228.87" font-size="7.0" text-anchor="end" font-weight="normal" fill="#111" style="color:#111" >15</text>
<rect x="335.40" y="287.97" width="2.60" height="4.43" fill="#050505" stroke="#000000" stroke-width="0.6"/>
<rect x="339.65" y="284.86" width="2.60" height="7.54" fill="#050505" stroke="#000000" stroke-width="0.6"/>
<line x1="340.95" y1="285.16" x2="340.95" y2="284.42" stroke="#222" stroke-width="0.75"/>
<line x1="339.75" y1="284.42" x2="342.15" y2="284.42" stroke="#222" stroke-width="0.8"/>
<rect x="343.90" y="277.77" width="2.60" height="14.63" fill="#050505" stroke="#000000" stroke-width="0.6"/>
<line x1="345.20" y1="278.07" x2="345.20" y2="277.33" stroke="#222" stroke-width="0.75"/>
<line x1="344.00" y1="277.33" x2="346.40" y2="277.33" stroke="#222" stroke-width="0.8"/>
<rect x="348.15" y="262.70" width="2.60" height="29.70" fill="#050505" stroke="#000000" stroke-width="0.6"/>
<line x1="349.45" y1="263.00" x2="349.45" y2="262.25" stroke="#222" stroke-width="0.75"/>
<line x1="348.25" y1="262.25" x2="350.65" y2="262.25" stroke="#222" stroke-width="0.8"/>
<rect x="352.40" y="246.74" width="2.60" height="45.66" fill="#050505" stroke="#000000" stroke-width="0.6"/>
<line x1="353.70" y1="247.04" x2="353.70" y2="244.52" stroke="#222" stroke-width="0.75"/>
<line x1="352.50" y1="244.52" x2="354.90" y2="244.52" stroke="#222" stroke-width="0.8"/>
<text x="345.20" y="301.00" font-size="7.0" text-anchor="middle" font-weight="normal" fill="#111" style="color:#111" >01234</text>
<rect x="360.15" y="288.32" width="2.60" height="4.08" fill="#a3a3a3" stroke="#747474" stroke-width="0.6"/>
<rect x="364.40" y="286.02" width="2.60" height="6.38" fill="#a3a3a3" stroke="#747474" stroke-width="0.6"/>
<line x1="365.70" y1="286.32" x2="365.70" y2="285.79" stroke="#555" stroke-width="0.75"/>
<line x1="364.50" y1="285.79" x2="366.90" y2="285.79" stroke="#555" stroke-width="0.8"/>
<rect x="368.65" y="283.09" width="2.60" height="9.31" fill="#a3a3a3" stroke="#747474" stroke-width="0.6"/>
<line x1="369.95" y1="283.39" x2="369.95" y2="282.65" stroke="#555" stroke-width="0.75"/>
<line x1="368.75" y1="282.65" x2="371.15" y2="282.65" stroke="#555" stroke-width="0.8"/>
<rect x="372.90" y="280.87" width="2.60" height="11.53" fill="#a3a3a3" stroke="#747474" stroke-width="0.6"/>
<line x1="374.20" y1="281.17" x2="374.20" y2="279.99" stroke="#555" stroke-width="0.75"/>
<line x1="373.00" y1="279.99" x2="375.40" y2="279.99" stroke="#555" stroke-width="0.8"/>
<rect x="377.15" y="282.20" width="2.60" height="10.20" fill="#a3a3a3" stroke="#747474" stroke-width="0.6"/>
<line x1="378.45" y1="282.50" x2="378.45" y2="281.76" stroke="#555" stroke-width="0.75"/>
<line x1="377.25" y1="281.76" x2="379.65" y2="281.76" stroke="#555" stroke-width="0.8"/>
<text x="369.95" y="301.00" font-size="7.0" text-anchor="middle" font-weight="normal" fill="#111" style="color:#111" >01234</text>
<rect x="384.90" y="287.97" width="2.60" height="4.43" fill="#050505" stroke="#000000" stroke-width="0.6"/>
<rect x="389.15" y="284.86" width="2.60" height="7.54" fill="#050505" stroke="#000000" stroke-width="0.6"/>
<line x1="390.45" y1="285.16" x2="390.45" y2="284.42" stroke="#222" stroke-width="0.75"/>
<line x1="389.25" y1="284.42" x2="391.65" y2="284.42" stroke="#222" stroke-width="0.8"/>
<rect x="393.40" y="275.55" width="2.60" height="16.85" fill="#050505" stroke="#000000" stroke-width="0.6"/>
<line x1="394.70" y1="275.85" x2="394.70" y2="275.11" stroke="#222" stroke-width="0.75"/>
<line x1="393.50" y1="275.11" x2="395.90" y2="275.11" stroke="#222" stroke-width="0.8"/>
<rect x="397.65" y="260.04" width="2.60" height="32.36" fill="#050505" stroke="#000000" stroke-width="0.6"/>
<line x1="398.95" y1="260.34" x2="398.95" y2="257.38" stroke="#222" stroke-width="0.75"/>
<line x1="397.75" y1="257.38" x2="400.15" y2="257.38" stroke="#222" stroke-width="0.8"/>
<rect x="401.90" y="247.62" width="2.60" height="44.78" fill="#050505" stroke="#000000" stroke-width="0.6"/>
<line x1="403.20" y1="247.92" x2="403.20" y2="245.85" stroke="#222" stroke-width="0.75"/>
<line x1="402.00" y1="245.85" x2="404.40" y2="245.85" stroke="#222" stroke-width="0.8"/>
<text x="394.70" y="301.00" font-size="7.0" text-anchor="middle" font-weight="normal" fill="#111" style="color:#111" >01234</text>
<rect x="409.65" y="288.32" width="2.60" height="4.08" fill="#a3a3a3" stroke="#747474" stroke-width="0.6"/>
<rect x="413.90" y="281.32" width="2.60" height="11.08" fill="#a3a3a3" stroke="#747474" stroke-width="0.6"/>
<line x1="415.20" y1="281.62" x2="415.20" y2="280.87" stroke="#555" stroke-width="0.75"/>
<line x1="414.00" y1="280.87" x2="416.40" y2="280.87" stroke="#555" stroke-width="0.8"/>
<rect x="418.15" y="276.88" width="2.60" height="15.52" fill="#a3a3a3" stroke="#747474" stroke-width="0.6"/>
<line x1="419.45" y1="277.18" x2="419.45" y2="276.44" stroke="#555" stroke-width="0.75"/>
<line x1="418.25" y1="276.44" x2="420.65" y2="276.44" stroke="#555" stroke-width="0.8"/>
<rect x="422.40" y="261.37" width="2.60" height="31.03" fill="#a3a3a3" stroke="#747474" stroke-width="0.6"/>
<line x1="423.70" y1="261.67" x2="423.70" y2="255.60" stroke="#555" stroke-width="0.75"/>
<line x1="422.50" y1="255.60" x2="424.90" y2="255.60" stroke="#555" stroke-width="0.8"/>
<rect x="426.65" y="265.80" width="2.60" height="26.60" fill="#a3a3a3" stroke="#747474" stroke-width="0.6"/>
<line x1="427.95" y1="266.10" x2="427.95" y2="264.03" stroke="#555" stroke-width="0.75"/>
<line x1="426.75" y1="264.03" x2="429.15" y2="264.03" stroke="#555" stroke-width="0.8"/>
<text x="419.45" y="301.00" font-size="7.0" text-anchor="middle" font-weight="normal" fill="#111" style="color:#111" >01234</text>
<text x="382.30" y="309.40" font-size="7.0" text-anchor="middle" font-weight="normal" fill="#111" style="color:#111" >Days</text>
<text x="382.20" y="223.60" font-size="7.4" text-anchor="middle" font-weight="normal" fill="#111" style="color:#111" >NOMO-1</text>
<line x1="339.00" y1="226.30" x2="426.60" y2="226.30" stroke="#222" stroke-width="0.8"/>
<text x="357.30" y="235.30" font-size="7.4" text-anchor="middle" font-weight="normal" fill="#111" style="color:#111" >EV</text>
<line x1="339.00" y1="238.30" x2="375.10" y2="238.30" stroke="#222" stroke-width="0.8"/>
<text x="408.40" y="235.30" font-size="7.4" text-anchor="middle" font-weight="normal" fill="#111" style="color:#111" >CDK6</text>
<line x1="390.70" y1="238.30" x2="426.60" y2="238.30" stroke="#222" stroke-width="0.8"/>
<rect x="436.30" y="243.40" width="8.70" height="4.80" fill="#050505" stroke="#000000" stroke-width="0.6"/>
<text x="448.80" y="248.39" font-size="7.2" text-anchor="start" font-weight="normal" fill="#111" style="color:#111" >shControl</text>
<rect x="436.30" y="253.20" width="8.70" height="4.80" fill="#a3a3a3" stroke="#747474" stroke-width="0.6"/>
<text x="448.80" y="258.19" font-size="7.2" text-anchor="start" font-weight="normal" fill="#111" style="color:#111" >shCDK6_4</text>
<text x="305.00" y="333.20" font-size="11.6" text-anchor="start" font-weight="bold" fill="#000" style="color:#000" >D</text>
<text x="336.30" y="332.40" font-size="9.0" text-anchor="middle" font-weight="normal" fill="#111" style="color:#111" >EV</text>
<line x1="326.90" y1="335.30" x2="348.90" y2="335.30" stroke="#222" stroke-width="0.9"/>
<text x="373.20" y="332.40" font-size="9.0" text-anchor="middle" font-weight="normal" fill="#111" style="color:#111" >CDK6</text>
<line x1="362.30" y1="335.30" x2="384.00" y2="335.30" stroke="#222" stroke-width="0.9"/>
<text x="0" y="0" font-size="9.0" text-anchor="start" fill="#111" style="color:#111" transform="translate(333.10,385.20) rotate(-90)">shControl</text>
<text x="0" y="0" font-size="9.0" text-anchor="start" fill="#111" style="color:#111" transform="translate(347.20,385.20) rotate(-90)">shCDK6_4</text>
<text x="0" y="0" font-size="9.0" text-anchor="start" fill="#111" style="color:#111" transform="translate(367.60,385.20) rotate(-90)">shControl</text>
<text x="0" y="0" font-size="9.0" text-anchor="start" fill="#111" style="color:#111" transform="translate(382.60,385.20) rotate(-90)">shCDK6_4</text>
<defs><filter id="blur1" x="-20%" y="-50%" width="140%" height="200%"><feGaussianBlur stdDeviation="0.9"/></filter><filter id="blur2" x="-5%" y="-5%" width="110%" height="110%"><feGaussianBlur stdDeviation="0.35"/></filter></defs>
<rect x="320.00" y="387.80" width="72.00" height="11.60" fill="#efefef"/>
<rect x="320.00" y="403.80" width="72.00" height="10.80" fill="#f1f1f1"/>
<g filter="url(#blur1)">
<ellipse cx="329.40" cy="393.6" rx="7.40" ry="2.50" fill="#050505"/>
<rect x="323.50" y="391.40" width="11.80" height="4.40" fill="#050505"/>
<ellipse cx="347.00" cy="393.6" rx="6.00" ry="1.30" fill="#909090"/>
<rect x="342.50" y="392.60" width="9.00" height="2.00" fill="#909090"/>
<ellipse cx="364.15" cy="393.6" rx="7.75" ry="2.50" fill="#050505"/>
<rect x="357.90" y="391.40" width="12.50" height="4.40" fill="#050505"/>
<ellipse cx="383.05" cy="393.6" rx="7.55" ry="1.70" fill="#202020"/>
<rect x="377.00" y="392.20" width="12.10" height="2.80" fill="#202020"/>
<rect x="321.80" y="406.50" width="13.00" height="5.20" fill="#080808"/>
<ellipse cx="328.30" cy="409.1" rx="7.50" ry="2.9" fill="#080808"/>
<rect x="339.80" y="406.50" width="12.70" height="5.20" fill="#080808"/>
<ellipse cx="346.15" cy="409.1" rx="7.35" ry="2.9" fill="#080808"/>
<rect x="356.80" y="406.50" width="14.90" height="5.20" fill="#080808"/>
<ellipse cx="364.25" cy="409.1" rx="8.45" ry="2.9" fill="#080808"/>
<rect x="376.00" y="406.50" width="14.60" height="5.20" fill="#080808"/>
<ellipse cx="383.30" cy="409.1" rx="8.30" ry="2.9" fill="#080808"/>
</g>
<text x="395.70" y="396.60" font-size="9.0" text-anchor="start" font-weight="normal" fill="#111" style="color:#111" >CDK6</text>
<text x="396.20" y="412.30" font-size="9.0" text-anchor="start" font-weight="normal" fill="#111" style="color:#111" >β-actin</text>
<text x="0.60" y="333.20" font-size="11.6" text-anchor="start" font-weight="bold" fill="#000" style="color:#000" >E</text>
<text x="0" y="0" font-size="6.5" text-anchor="middle" fill="#111" style="color:#111" transform="translate(10.60,374.80) rotate(-90)">Relative proliferation</text>
<line x1="27.00" y1="342.40" x2="27.00" y2="410.40" stroke="#222" stroke-width="0.95"/>
<line x1="27.00" y1="410.00" x2="127.90" y2="410.00" stroke="#222" stroke-width="0.95"/>
<line x1="25.00" y1="410.00" x2="27.00" y2="410.00" stroke="#222" stroke-width="0.95"/>
<text x="24.80" y="412.75" font-size="6.4" text-anchor="end" font-weight="normal" fill="#111" style="color:#111" >0</text>
<line x1="25.00" y1="387.60" x2="27.00" y2="387.60" stroke="#222" stroke-width="0.95"/>
<text x="24.80" y="390.35" font-size="6.4" text-anchor="end" font-weight="normal" fill="#111" style="color:#111" >60</text>
<line x1="25.00" y1="365.20" x2="27.00" y2="365.20" stroke="#222" stroke-width="0.95"/>
<text x="24.80" y="367.95" font-size="6.4" text-anchor="end" font-weight="normal" fill="#111" style="color:#111" >120</text>
<line x1="25.00" y1="342.80" x2="27.00" y2="342.80" stroke="#222" stroke-width="0.95"/>
<text x="24.80" y="345.55" font-size="6.4" text-anchor="end" font-weight="normal" fill="#111" style="color:#111" >180</text>
<rect x="30.85" y="409.40" width="3.90" height="0.60" fill="#050505" stroke="#000000" stroke-width="0.6"/>
<rect x="36.50" y="408.88" width="3.90" height="1.12" fill="#050505" stroke="#000000" stroke-width="0.6"/>
<line x1="38.45" y1="409.18" x2="38.45" y2="408.69" stroke="#222" stroke-width="0.75"/>
<line x1="37.25" y1="408.69" x2="39.65" y2="408.69" stroke="#222" stroke-width="0.8"/>
<rect x="42.15" y="405.52" width="3.90" height="4.48" fill="#050505" stroke="#000000" stroke-width="0.6"/>
<line x1="44.10" y1="405.82" x2="44.10" y2="404.96" stroke="#222" stroke-width="0.75"/>
<line x1="42.90" y1="404.96" x2="45.30" y2="404.96" stroke="#222" stroke-width="0.8"/>
<rect x="47.80" y="380.13" width="3.90" height="29.87" fill="#050505" stroke="#000000" stroke-width="0.6"/>
<line x1="49.75" y1="380.43" x2="49.75" y2="376.40" stroke="#222" stroke-width="0.75"/>
<line x1="48.55" y1="376.40" x2="50.95" y2="376.40" stroke="#222" stroke-width="0.8"/>
<rect x="53.45" y="358.85" width="3.90" height="51.15" fill="#050505" stroke="#000000" stroke-width="0.6"/>
<line x1="55.40" y1="359.15" x2="55.40" y2="354.37" stroke="#222" stroke-width="0.75"/>
<line x1="54.20" y1="354.37" x2="56.60" y2="354.37" stroke="#222" stroke-width="0.8"/>
<text x="32.80" y="418.00" font-size="6.8" text-anchor="middle" font-weight="normal" fill="#111" style="color:#111" >0</text>
<text x="38.45" y="418.00" font-size="6.8" text-anchor="middle" font-weight="normal" fill="#111" style="color:#111" >1</text>
<text x="44.10" y="418.00" font-size="6.8" text-anchor="middle" font-weight="normal" fill="#111" style="color:#111" >2</text>
<text x="49.75" y="418.00" font-size="6.8" text-anchor="middle" font-weight="normal" fill="#111" style="color:#111" >3</text>
<text x="55.40" y="418.00" font-size="6.8" text-anchor="middle" font-weight="normal" fill="#111" style="color:#111" >4</text>
<rect x="64.30" y="409.40" width="3.90" height="0.60" fill="#e8761f" stroke="#c05a10" stroke-width="0.6"/>
<rect x="69.95" y="409.40" width="3.90" height="0.60" fill="#e8761f" stroke="#c05a10" stroke-width="0.6"/>
<line x1="71.90" y1="409.70" x2="71.90" y2="409.29" stroke="#6b4a30" stroke-width="0.75"/>
<line x1="70.70" y1="409.29" x2="73.10" y2="409.29" stroke="#6b4a30" stroke-width="0.8"/>
<rect x="75.60" y="408.32" width="3.90" height="1.68" fill="#e8761f" stroke="#c05a10" stroke-width="0.6"/>
<line x1="77.55" y1="408.62" x2="77.55" y2="407.95" stroke="#6b4a30" stroke-width="0.75"/>
<line x1="76.35" y1="407.95" x2="78.75" y2="407.95" stroke="#6b4a30" stroke-width="0.8"/>
<rect x="81.25" y="390.96" width="3.90" height="19.04" fill="#e8761f" stroke="#c05a10" stroke-width="0.6"/>
<line x1="83.20" y1="391.26" x2="83.20" y2="387.23" stroke="#6b4a30" stroke-width="0.75"/>
<line x1="82.00" y1="387.23" x2="84.40" y2="387.23" stroke="#6b4a30" stroke-width="0.8"/>
<rect x="86.90" y="365.95" width="3.90" height="44.05" fill="#e8761f" stroke="#c05a10" stroke-width="0.6"/>
<line x1="88.85" y1="366.25" x2="88.85" y2="359.23" stroke="#6b4a30" stroke-width="0.75"/>
<line x1="87.65" y1="359.23" x2="90.05" y2="359.23" stroke="#6b4a30" stroke-width="0.8"/>
<text x="66.25" y="418.00" font-size="6.8" text-anchor="middle" font-weight="normal" fill="#111" style="color:#111" >0</text>
<text x="71.90" y="418.00" font-size="6.8" text-anchor="middle" font-weight="normal" fill="#111" style="color:#111" >1</text>
<text x="77.55" y="418.00" font-size="6.8" text-anchor="middle" font-weight="normal" fill="#111" style="color:#111" >2</text>
<text x="83.20" y="418.00" font-size="6.8" text-anchor="middle" font-weight="normal" fill="#111" style="color:#111" >3</text>
<text x="88.85" y="418.00" font-size="6.8" text-anchor="middle" font-weight="normal" fill="#111" style="color:#111" >4</text>
<rect x="97.75" y="409.40" width="3.90" height="0.60" fill="#f1cd9c" stroke="#d9b282" stroke-width="0.6"/>
<rect x="103.40" y="409.40" width="3.90" height="0.60" fill="#f1cd9c" stroke="#d9b282" stroke-width="0.6"/>
<line x1="105.35" y1="409.70" x2="105.35" y2="409.29" stroke="#8a7460" stroke-width="0.75"/>
<line x1="104.15" y1="409.29" x2="106.55" y2="409.29" stroke="#8a7460" stroke-width="0.8"/>
<rect x="109.05" y="408.51" width="3.90" height="1.49" fill="#f1cd9c" stroke="#d9b282" stroke-width="0.6"/>
<line x1="111.00" y1="408.81" x2="111.00" y2="408.13" stroke="#8a7460" stroke-width="0.75"/>
<line x1="109.80" y1="408.13" x2="112.20" y2="408.13" stroke="#8a7460" stroke-width="0.8"/>
<rect x="114.70" y="389.09" width="3.90" height="20.91" fill="#f1cd9c" stroke="#d9b282" stroke-width="0.6"/>
<line x1="116.65" y1="389.39" x2="116.65" y2="387.60" stroke="#8a7460" stroke-width="0.75"/>
<line x1="115.45" y1="387.60" x2="117.85" y2="387.60" stroke="#8a7460" stroke-width="0.8"/>
<rect x="120.35" y="367.07" width="3.90" height="42.93" fill="#f1cd9c" stroke="#d9b282" stroke-width="0.6"/>
<line x1="122.30" y1="367.37" x2="122.30" y2="365.95" stroke="#8a7460" stroke-width="0.75"/>
<line x1="121.10" y1="365.95" x2="123.50" y2="365.95" stroke="#8a7460" stroke-width="0.8"/>
<text x="99.70" y="418.00" font-size="6.8" text-anchor="middle" font-weight="normal" fill="#111" style="color:#111" >0</text>
<text x="105.35" y="418.00" font-size="6.8" text-anchor="middle" font-weight="normal" fill="#111" style="color:#111" >1</text>
<text x="111.00" y="418.00" font-size="6.8" text-anchor="middle" font-weight="normal" fill="#111" style="color:#111" >2</text>
<text x="116.65" y="418.00" font-size="6.8" text-anchor="middle" font-weight="normal" fill="#111" style="color:#111" >3</text>
<text x="122.30" y="418.00" font-size="6.8" text-anchor="middle" font-weight="normal" fill="#111" style="color:#111" >4</text>
<text x="77.60" y="346.30" font-size="7.4" text-anchor="middle" font-weight="normal" fill="#111" style="color:#111" >Ba/F3</text>
<line x1="143.00" y1="342.40" x2="143.00" y2="410.70" stroke="#222" stroke-width="0.95"/>
<line x1="143.00" y1="410.30" x2="244.30" y2="410.30" stroke="#222" stroke-width="0.95"/>
<line x1="141.00" y1="410.30" x2="143.00" y2="410.30" stroke="#222" stroke-width="0.95"/>
<text x="140.80" y="413.05" font-size="6.4" text-anchor="end" font-weight="normal" fill="#111" style="color:#111" >0</text>
<line x1="141.00" y1="396.80" x2="143.00" y2="396.80" stroke="#222" stroke-width="0.95"/>
<text x="140.80" y="399.55" font-size="6.4" text-anchor="end" font-weight="normal" fill="#111" style="color:#111" >2</text>
<line x1="141.00" y1="383.30" x2="143.00" y2="383.30" stroke="#222" stroke-width="0.95"/>
<text x="140.80" y="386.05" font-size="6.4" text-anchor="end" font-weight="normal" fill="#111" style="color:#111" >4</text>
<line x1="141.00" y1="369.80" x2="143.00" y2="369.80" stroke="#222" stroke-width="0.95"/>
<text x="140.80" y="372.55" font-size="6.4" text-anchor="end" font-weight="normal" fill="#111" style="color:#111" >6</text>
<line x1="141.00" y1="356.30" x2="143.00" y2="356.30" stroke="#222" stroke-width="0.95"/>
<text x="140.80" y="359.05" font-size="6.4" text-anchor="end" font-weight="normal" fill="#111" style="color:#111" >8</text>
<line x1="141.00" y1="342.80" x2="143.00" y2="342.80" stroke="#222" stroke-width="0.95"/>
<text x="140.80" y="345.55" font-size="6.4" text-anchor="end" font-weight="normal" fill="#111" style="color:#111" >10</text>
<rect x="146.25" y="403.55" width="4.00" height="6.75" fill="#050505" stroke="#000000" stroke-width="0.6"/>
<rect x="151.95" y="400.18" width="4.00" height="10.12" fill="#050505" stroke="#000000" stroke-width="0.6"/>
<line x1="153.95" y1="400.48" x2="153.95" y2="399.50" stroke="#222" stroke-width="0.75"/>
<line x1="152.75" y1="399.50" x2="155.15" y2="399.50" stroke="#222" stroke-width="0.8"/>
<rect x="157.65" y="391.40" width="4.00" height="18.90" fill="#050505" stroke="#000000" stroke-width="0.6"/>
<line x1="159.65" y1="391.70" x2="159.65" y2="389.38" stroke="#222" stroke-width="0.75"/>
<line x1="158.45" y1="389.38" x2="160.85" y2="389.38" stroke="#222" stroke-width="0.8"/>
<rect x="163.35" y="380.60" width="4.00" height="29.70" fill="#050505" stroke="#000000" stroke-width="0.6"/>
<line x1="165.35" y1="380.90" x2="165.35" y2="377.23" stroke="#222" stroke-width="0.75"/>
<line x1="164.15" y1="377.23" x2="166.55" y2="377.23" stroke="#222" stroke-width="0.8"/>
<rect x="169.05" y="361.03" width="4.00" height="49.27" fill="#050505" stroke="#000000" stroke-width="0.6"/>
<line x1="171.05" y1="361.33" x2="171.05" y2="351.58" stroke="#222" stroke-width="0.75"/>
<line x1="169.85" y1="351.58" x2="172.25" y2="351.58" stroke="#222" stroke-width="0.8"/>
<text x="148.25" y="418.40" font-size="6.8" text-anchor="middle" font-weight="normal" fill="#111" style="color:#111" >0</text>
<text x="153.95" y="418.40" font-size="6.8" text-anchor="middle" font-weight="normal" fill="#111" style="color:#111" >1</text>
<text x="159.65" y="418.40" font-size="6.8" text-anchor="middle" font-weight="normal" fill="#111" style="color:#111" >2</text>
<text x="165.35" y="418.40" font-size="6.8" text-anchor="middle" font-weight="normal" fill="#111" style="color:#111" >3</text>
<text x="171.05" y="418.40" font-size="6.8" text-anchor="middle" font-weight="normal" fill="#111" style="color:#111" >4</text>
<rect x="180.00" y="403.55" width="4.00" height="6.75" fill="#e8761f" stroke="#c05a10" stroke-width="0.6"/>
<rect x="185.70" y="401.53" width="4.00" height="8.78" fill="#e8761f" stroke="#c05a10" stroke-width="0.6"/>
<line x1="187.70" y1="401.83" x2="187.70" y2="398.83" stroke="#6b4a30" stroke-width="0.75"/>
<line x1="186.50" y1="398.83" x2="188.90" y2="398.83" stroke="#6b4a30" stroke-width="0.8"/>
<rect x="191.40" y="394.10" width="4.00" height="16.20" fill="#e8761f" stroke="#c05a10" stroke-width="0.6"/>
<line x1="193.40" y1="394.40" x2="193.40" y2="387.35" stroke="#6b4a30" stroke-width="0.75"/>
<line x1="192.20" y1="387.35" x2="194.60" y2="387.35" stroke="#6b4a30" stroke-width="0.8"/>
<rect x="197.10" y="388.70" width="4.00" height="21.60" fill="#e8761f" stroke="#c05a10" stroke-width="0.6"/>
<line x1="199.10" y1="389.00" x2="199.10" y2="377.22" stroke="#6b4a30" stroke-width="0.75"/>
<line x1="197.90" y1="377.22" x2="200.30" y2="377.22" stroke="#6b4a30" stroke-width="0.8"/>
<rect x="202.80" y="386.68" width="4.00" height="23.62" fill="#e8761f" stroke="#c05a10" stroke-width="0.6"/>
<line x1="204.80" y1="386.98" x2="204.80" y2="383.30" stroke="#6b4a30" stroke-width="0.75"/>
<line x1="203.60" y1="383.30" x2="206.00" y2="383.30" stroke="#6b4a30" stroke-width="0.8"/>
<text x="182.00" y="418.40" font-size="6.8" text-anchor="middle" font-weight="normal" fill="#111" style="color:#111" >0</text>
<text x="187.70" y="418.40" font-size="6.8" text-anchor="middle" font-weight="normal" fill="#111" style="color:#111" >1</text>
<text x="193.40" y="418.40" font-size="6.8" text-anchor="middle" font-weight="normal" fill="#111" style="color:#111" >2</text>
<text x="199.10" y="418.40" font-size="6.8" text-anchor="middle" font-weight="normal" fill="#111" style="color:#111" >3</text>
<text x="204.80" y="418.40" font-size="6.8" text-anchor="middle" font-weight="normal" fill="#111" style="color:#111" >4</text>
<rect x="213.75" y="403.89" width="4.00" height="6.41" fill="#f1cd9c" stroke="#d9b282" stroke-width="0.6"/>
<rect x="219.45" y="401.53" width="4.00" height="8.78" fill="#f1cd9c" stroke="#d9b282" stroke-width="0.6"/>
<line x1="221.45" y1="401.83" x2="221.45" y2="398.15" stroke="#8a7460" stroke-width="0.75"/>
<line x1="220.25" y1="398.15" x2="222.65" y2="398.15" stroke="#8a7460" stroke-width="0.8"/>
<rect x="225.15" y="403.21" width="4.00" height="7.09" fill="#f1cd9c" stroke="#d9b282" stroke-width="0.6"/>
<line x1="227.15" y1="403.51" x2="227.15" y2="402.54" stroke="#8a7460" stroke-width="0.75"/>
<line x1="225.95" y1="402.54" x2="228.35" y2="402.54" stroke="#8a7460" stroke-width="0.8"/>
<rect x="230.85" y="402.88" width="4.00" height="7.43" fill="#f1cd9c" stroke="#d9b282" stroke-width="0.6"/>
<line x1="232.85" y1="403.18" x2="232.85" y2="400.85" stroke="#8a7460" stroke-width="0.75"/>
<line x1="231.65" y1="400.85" x2="234.05" y2="400.85" stroke="#8a7460" stroke-width="0.8"/>
<rect x="236.55" y="401.53" width="4.00" height="8.78" fill="#f1cd9c" stroke="#d9b282" stroke-width="0.6"/>
<line x1="238.55" y1="401.83" x2="238.55" y2="399.50" stroke="#8a7460" stroke-width="0.75"/>
<line x1="237.35" y1="399.50" x2="239.75" y2="399.50" stroke="#8a7460" stroke-width="0.8"/>
<text x="215.75" y="418.40" font-size="6.8" text-anchor="middle" font-weight="normal" fill="#111" style="color:#111" >0</text>
<text x="221.45" y="418.40" font-size="6.8" text-anchor="middle" font-weight="normal" fill="#111" style="color:#111" >1</text>
<text x="227.15" y="418.40" font-size="6.8" text-anchor="middle" font-weight="normal" fill="#111" style="color:#111" >2</text>
<text x="232.85" y="418.40" font-size="6.8" text-anchor="middle" font-weight="normal" fill="#111" style="color:#111" >3</text>
<text x="238.55" y="418.40" font-size="6.8" text-anchor="middle" font-weight="normal" fill="#111" style="color:#111" >4</text>
<text x="193.60" y="345.40" font-size="7.2" text-anchor="middle" font-weight="normal" fill="#111" style="color:#111" >MLL-AF9 #1</text>
<text x="194.00" y="425.50" font-size="6.6" text-anchor="middle" font-weight="normal" fill="#111" style="color:#111" >Days</text>
<text x="77.60" y="425.50" font-size="6.6" text-anchor="middle" font-weight="normal" fill="#111" style="color:#111" >Days</text>
<rect x="234.60" y="349.05" width="8.50" height="4.50" fill="#050505" stroke="#000000" stroke-width="0.6"/>
<text x="246.80" y="353.64" font-size="6.5" text-anchor="start" font-weight="normal" fill="#111" style="color:#111" >shControl</text>
<rect x="234.60" y="359.25" width="8.50" height="4.50" fill="#e8761f" stroke="#c05a10" stroke-width="0.6"/>
<text x="246.80" y="363.84" font-size="6.5" text-anchor="start" font-weight="normal" fill="#111" style="color:#111" >shCdk6_m1</text>
<rect x="234.60" y="369.45" width="8.50" height="4.50" fill="#f1cd9c" stroke="#d9b282" stroke-width="0.6"/>
<text x="246.80" y="374.04" font-size="6.5" text-anchor="start" font-weight="normal" fill="#111" style="color:#111" >shCdk6_m2</text>
<text x="0.60" y="448.20" font-size="11.6" text-anchor="start" font-weight="bold" fill="#000" style="color:#000" >F</text>
<text x="0" y="0" font-size="6.6" text-anchor="middle" fill="#111" style="color:#111" transform="translate(10.80,495.00) rotate(-90)">Number of colonies</text>
<line x1="31.50" y1="459.00" x2="31.50" y2="528.90" stroke="#222" stroke-width="0.95"/>
<line x1="31.50" y1="528.50" x2="135.00" y2="528.50" stroke="#222" stroke-width="0.95"/>
<line x1="29.50" y1="528.50" x2="31.50" y2="528.50" stroke="#222" stroke-width="0.95"/>
<text x="29.20" y="531.47" font-size="7.0" text-anchor="end" font-weight="normal" fill="#111" style="color:#111" >0</text>
<line x1="29.50" y1="514.68" x2="31.50" y2="514.68" stroke="#222" stroke-width="0.95"/>
<text x="29.20" y="517.65" font-size="7.0" text-anchor="end" font-weight="normal" fill="#111" style="color:#111" >500</text>
<line x1="29.50" y1="500.86" x2="31.50" y2="500.86" stroke="#222" stroke-width="0.95"/>
<text x="29.20" y="503.83" font-size="7.0" text-anchor="end" font-weight="normal" fill="#111" style="color:#111" >1000</text>
<line x1="29.50" y1="487.04" x2="31.50" y2="487.04" stroke="#222" stroke-width="0.95"/>
<text x="29.20" y="490.01" font-size="7.0" text-anchor="end" font-weight="normal" fill="#111" style="color:#111" >1500</text>
<line x1="29.50" y1="473.22" x2="31.50" y2="473.22" stroke="#222" stroke-width="0.95"/>
<text x="29.20" y="476.19" font-size="7.0" text-anchor="end" font-weight="normal" fill="#111" style="color:#111" >2000</text>
<line x1="29.50" y1="459.40" x2="31.50" y2="459.40" stroke="#222" stroke-width="0.95"/>
<text x="29.20" y="462.37" font-size="7.0" text-anchor="end" font-weight="normal" fill="#111" style="color:#111" >2500</text>
<rect x="36.65" y="472.67" width="6.90" height="55.83" fill="#050505" stroke="#000000" stroke-width="0.6"/>
<rect x="45.55" y="498.10" width="6.90" height="30.40" fill="#e8761f" stroke="#c05a10" stroke-width="0.6"/>
<line x1="49.00" y1="498.40" x2="49.00" y2="495.33" stroke="#6b4a30" stroke-width="0.75"/>
<line x1="47.80" y1="495.33" x2="50.20" y2="495.33" stroke="#6b4a30" stroke-width="0.8"/>
<rect x="54.45" y="509.98" width="6.90" height="18.52" fill="#f1cd9c" stroke="#d9b282" stroke-width="0.6"/>
<line x1="57.90" y1="510.28" x2="57.90" y2="507.22" stroke="#8a7460" stroke-width="0.75"/>
<line x1="56.70" y1="507.22" x2="59.10" y2="507.22" stroke="#8a7460" stroke-width="0.8"/>
<rect x="70.95" y="485.38" width="6.90" height="43.12" fill="#050505" stroke="#000000" stroke-width="0.6"/>
<line x1="74.40" y1="485.68" x2="74.40" y2="482.62" stroke="#222" stroke-width="0.75"/>
<line x1="73.20" y1="482.62" x2="75.60" y2="482.62" stroke="#222" stroke-width="0.8"/>
<rect x="79.85" y="500.03" width="6.90" height="28.47" fill="#e8761f" stroke="#c05a10" stroke-width="0.6"/>
<line x1="83.30" y1="500.33" x2="83.30" y2="496.99" stroke="#6b4a30" stroke-width="0.75"/>
<line x1="82.10" y1="496.99" x2="84.50" y2="496.99" stroke="#6b4a30" stroke-width="0.8"/>
<rect x="88.75" y="514.13" width="6.90" height="14.37" fill="#f1cd9c" stroke="#d9b282" stroke-width="0.6"/>
<line x1="92.20" y1="514.43" x2="92.20" y2="513.57" stroke="#8a7460" stroke-width="0.75"/>
<line x1="91.00" y1="513.57" x2="93.40" y2="513.57" stroke="#8a7460" stroke-width="0.8"/>
<rect x="105.25" y="519.66" width="6.90" height="8.84" fill="#050505" stroke="#000000" stroke-width="0.6"/>
<line x1="108.70" y1="519.96" x2="108.70" y2="519.24" stroke="#222" stroke-width="0.75"/>
<line x1="107.50" y1="519.24" x2="109.90" y2="519.24" stroke="#222" stroke-width="0.8"/>
<rect x="114.15" y="522.56" width="6.90" height="5.94" fill="#e8761f" stroke="#c05a10" stroke-width="0.6"/>
<line x1="117.60" y1="522.86" x2="117.60" y2="522.14" stroke="#6b4a30" stroke-width="0.75"/>
<line x1="116.40" y1="522.14" x2="118.80" y2="522.14" stroke="#6b4a30" stroke-width="0.8"/>
<rect x="123.05" y="518.83" width="6.90" height="9.67" fill="#f1cd9c" stroke="#d9b282" stroke-width="0.6"/>
<line x1="126.50" y1="519.13" x2="126.50" y2="518.00" stroke="#8a7460" stroke-width="0.75"/>
<line x1="125.30" y1="518.00" x2="127.70" y2="518.00" stroke="#8a7460" stroke-width="0.8"/>
<text x="0" y="0" font-size="7.0" text-anchor="end" fill="#111" style="color:#111" transform="translate(47.60,533.40) rotate(-45) translate(0,2.4)">MLL-AF9 #1</text>
<text x="0" y="0" font-size="7.0" text-anchor="end" fill="#111" style="color:#111" transform="translate(81.40,533.40) rotate(-45) translate(0,2.4)">MLL-AF9 #2</text>
<text x="0" y="0" font-size="7.0" text-anchor="end" fill="#111" style="color:#111" transform="translate(116.20,533.00) rotate(-45) translate(0,2.4)">MOZ-TIF2</text>
<rect x="115.50" y="461.50" width="8.40" height="5.00" fill="#050505" stroke="#000000" stroke-width="0.6"/>
<text x="127.80" y="466.38" font-size="6.6" text-anchor="start" font-weight="normal" fill="#111" style="color:#111" >shControl</text>
<rect x="115.50" y="471.50" width="8.40" height="5.00" fill="#e8761f" stroke="#c05a10" stroke-width="0.6"/>
<text x="127.80" y="476.38" font-size="6.6" text-anchor="start" font-weight="normal" fill="#111" style="color:#111" >shCdk6_m1</text>
<rect x="115.50" y="481.50" width="8.40" height="5.00" fill="#f1cd9c" stroke="#d9b282" stroke-width="0.6"/>
<text x="127.80" y="486.38" font-size="6.6" text-anchor="start" font-weight="normal" fill="#111" style="color:#111" >shCdk6_m2</text>
<text x="191.60" y="458.20" font-size="9.2" text-anchor="middle" font-weight="normal" fill="#111" style="color:#111" >shControl</text>
<text x="256.30" y="447.30" font-size="9.2" text-anchor="middle" font-weight="normal" fill="#111" style="color:#111" >shCdk6</text>
<line x1="217.90" y1="449.30" x2="292.00" y2="449.30" stroke="#222" stroke-width="0.9"/>
<text x="233.40" y="458.20" font-size="9.2" text-anchor="middle" font-weight="normal" fill="#111" style="color:#111" >m1</text>
<text x="279.20" y="458.20" font-size="9.2" text-anchor="middle" font-weight="normal" fill="#111" style="color:#111" >m2</text>
<defs>
<radialGradient id="dot2"><stop offset="0" stop-color="#0a0a0a" stop-opacity="1"/><stop offset="0.55" stop-color="#0a0a0a" stop-opacity="0.95"/><stop offset="1" stop-color="#0a0a0a" stop-opacity="0"/></radialGradient>
<radialGradient id="dot1"><stop offset="0" stop-color="#404040" stop-opacity="1"/><stop offset="0.55" stop-color="#404040" stop-opacity="0.95"/><stop offset="1" stop-color="#404040" stop-opacity="0"/></radialGradient>
<radialGradient id="dot0"><stop offset="0" stop-color="#8c8c8c" stop-opacity="1"/><stop offset="0.55" stop-color="#8c8c8c" stop-opacity="0.95"/><stop offset="1" stop-color="#8c8c8c" stop-opacity="0"/></radialGradient>
</defs>
<rect x="170.00" y="460.80" width="42.60" height="31.50" fill="#b5b5b5"/>
<circle cx="172.30" cy="465.50" r="1.60" fill="url(#dot1)"/>
<circle cx="191.70" cy="462.60" r="1.60" fill="url(#dot1)"/>
<circle cx="200.10" cy="462.60" r="1.40" fill="url(#dot0)"/>
<circle cx="204.20" cy="465.50" r="1.60" fill="url(#dot1)"/>
<circle cx="194.90" cy="467.60" r="1.60" fill="url(#dot1)"/>
<circle cx="203.30" cy="469.00" r="1.95" fill="url(#dot2)"/>
<circle cx="182.90" cy="470.00" r="1.60" fill="url(#dot1)"/>
<circle cx="192.90" cy="471.20" r="1.44" fill="url(#dot1)"/>
<circle cx="171.20" cy="473.30" r="1.44" fill="url(#dot1)"/>
<circle cx="178.40" cy="473.60" r="1.95" fill="url(#dot2)"/>
<circle cx="196.90" cy="474.20" r="1.60" fill="url(#dot1)"/>
<circle cx="205.10" cy="475.70" r="1.75" fill="url(#dot0)"/>
<circle cx="209.10" cy="475.70" r="1.75" fill="url(#dot0)"/>
<circle cx="194.20" cy="479.30" r="1.28" fill="url(#dot1)"/>
<circle cx="173.60" cy="482.50" r="1.92" fill="url(#dot1)"/>
<circle cx="182.00" cy="485.90" r="1.92" fill="url(#dot1)"/>
<circle cx="177.00" cy="488.40" r="1.60" fill="url(#dot1)"/>
<circle cx="191.00" cy="490.80" r="1.80" fill="url(#dot2)"/>
<circle cx="198.30" cy="489.70" r="1.92" fill="url(#dot1)"/>
<circle cx="208.70" cy="490.20" r="2.10" fill="url(#dot2)"/>
<circle cx="185.20" cy="464.40" r="1.57" fill="url(#dot0)"/>
<circle cx="206.90" cy="462.80" r="1.40" fill="url(#dot0)"/>
<rect x="214.30" y="460.80" width="42.50" height="31.50" fill="#c6c6c6"/>
<circle cx="217.20" cy="465.80" r="1.76" fill="url(#dot1)"/>
<circle cx="230.50" cy="467.00" r="1.75" fill="url(#dot0)"/>
<circle cx="238.40" cy="467.00" r="1.75" fill="url(#dot0)"/>
<circle cx="245.90" cy="463.10" r="1.65" fill="url(#dot2)"/>
<circle cx="226.00" cy="471.80" r="2.08" fill="url(#dot1)"/>
<circle cx="242.90" cy="470.60" r="1.76" fill="url(#dot1)"/>
<circle cx="229.90" cy="482.50" r="2.25" fill="url(#dot2)"/>
<circle cx="245.50" cy="480.90" r="2.70" fill="url(#dot2)"/>
<circle cx="250.40" cy="481.60" r="1.75" fill="url(#dot0)"/>
<circle cx="225.40" cy="484.30" r="1.28" fill="url(#dot1)"/>
<circle cx="248.00" cy="488.40" r="2.10" fill="url(#dot2)"/>
<circle cx="215.20" cy="479.80" r="1.40" fill="url(#dot0)"/>
<rect x="259.20" y="460.80" width="41.70" height="31.50" fill="#cbcbcb"/>
<circle cx="280.20" cy="467.10" r="1.95" fill="url(#dot2)"/>
<circle cx="267.00" cy="475.50" r="1.95" fill="url(#dot2)"/>
<circle cx="262.10" cy="478.90" r="1.57" fill="url(#dot0)"/>
<circle cx="274.80" cy="482.30" r="1.95" fill="url(#dot2)"/>
<circle cx="259.90" cy="485.00" r="1.95" fill="url(#dot2)"/>
<circle cx="294.00" cy="486.10" r="1.75" fill="url(#dot0)"/>
<rect x="170.00" y="495.60" width="42.60" height="31.40" fill="#e4e4e4"/>
<circle cx="173.90" cy="499.00" r="1.65" fill="url(#dot2)"/>
<circle cx="178.40" cy="499.20" r="1.28" fill="url(#dot1)"/>
<circle cx="181.60" cy="498.30" r="1.05" fill="url(#dot0)"/>
<circle cx="183.60" cy="499.00" r="1.28" fill="url(#dot1)"/>
<circle cx="172.50" cy="502.10" r="1.28" fill="url(#dot1)"/>
<circle cx="196.00" cy="497.20" r="1.76" fill="url(#dot1)"/>
<circle cx="202.20" cy="496.50" r="1.44" fill="url(#dot1)"/>
<circle cx="201.60" cy="501.20" r="1.92" fill="url(#dot1)"/>
<circle cx="187.90" cy="504.70" r="1.60" fill="url(#dot1)"/>
<circle cx="201.00" cy="505.90" r="1.80" fill="url(#dot2)"/>
<circle cx="204.60" cy="506.20" r="1.60" fill="url(#dot1)"/>
<circle cx="206.40" cy="505.80" r="1.28" fill="url(#dot1)"/>
<circle cx="191.30" cy="508.50" r="1.60" fill="url(#dot1)"/>
<circle cx="194.00" cy="507.40" r="1.44" fill="url(#dot1)"/>
<circle cx="173.00" cy="511.40" r="1.80" fill="url(#dot2)"/>
<circle cx="179.60" cy="513.00" r="2.10" fill="url(#dot2)"/>
<circle cx="182.30" cy="513.70" r="1.65" fill="url(#dot2)"/>
<circle cx="186.80" cy="515.00" r="1.76" fill="url(#dot1)"/>
<circle cx="202.80" cy="510.70" r="1.75" fill="url(#dot0)"/>
<circle cx="207.30" cy="514.80" r="1.57" fill="url(#dot0)"/>
<circle cx="199.50" cy="518.00" r="1.65" fill="url(#dot2)"/>
<circle cx="196.80" cy="520.00" r="1.76" fill="url(#dot1)"/>
<circle cx="204.00" cy="521.80" r="1.95" fill="url(#dot2)"/>
<circle cx="210.30" cy="518.00" r="1.40" fill="url(#dot0)"/>
<circle cx="174.10" cy="521.60" r="1.40" fill="url(#dot0)"/>
<circle cx="175.70" cy="525.80" r="1.65" fill="url(#dot2)"/>
<circle cx="189.00" cy="525.20" r="1.65" fill="url(#dot2)"/>
<circle cx="206.90" cy="526.10" r="1.40" fill="url(#dot0)"/>
<rect x="214.30" y="495.60" width="42.50" height="31.40" fill="#dadada"/>
<circle cx="239.80" cy="499.90" r="1.76" fill="url(#dot1)"/>
<circle cx="245.50" cy="499.60" r="1.95" fill="url(#dot2)"/>
<circle cx="215.20" cy="505.30" r="1.60" fill="url(#dot1)"/>
<circle cx="232.80" cy="504.70" r="1.44" fill="url(#dot1)"/>
<circle cx="221.50" cy="508.60" r="1.92" fill="url(#dot1)"/>
<circle cx="230.50" cy="508.60" r="1.95" fill="url(#dot2)"/>
<circle cx="244.10" cy="508.50" r="1.75" fill="url(#dot0)"/>
<circle cx="254.50" cy="505.90" r="1.75" fill="url(#dot0)"/>
<circle cx="228.70" cy="511.00" r="1.12" fill="url(#dot1)"/>
<circle cx="246.50" cy="513.00" r="1.80" fill="url(#dot2)"/>
<circle cx="221.80" cy="518.90" r="1.57" fill="url(#dot0)"/>
<circle cx="215.20" cy="520.70" r="1.40" fill="url(#dot0)"/>
<circle cx="238.90" cy="526.10" r="1.65" fill="url(#dot2)"/>
<circle cx="245.00" cy="521.10" r="1.57" fill="url(#dot0)"/>
<rect x="259.20" y="495.60" width="41.70" height="31.40" fill="#dddddd"/>
<circle cx="278.60" cy="497.20" r="2.10" fill="url(#dot2)"/>
<circle cx="287.20" cy="500.10" r="1.44" fill="url(#dot1)"/>
<circle cx="287.20" cy="503.50" r="1.80" fill="url(#dot2)"/>
<circle cx="272.10" cy="513.90" r="1.95" fill="url(#dot2)"/>
<circle cx="270.00" cy="518.40" r="1.65" fill="url(#dot2)"/>
<circle cx="295.30" cy="513.00" r="1.95" fill="url(#dot2)"/>
<circle cx="288.10" cy="520.70" r="1.57" fill="url(#dot0)"/>
<rect x="170.00" y="530.30" width="42.60" height="31.70" fill="#dcdcdc"/>
<circle cx="199.20" cy="536.60" r="2.10" fill="url(#dot2)"/>
<circle cx="192.90" cy="536.90" r="1.75" fill="url(#dot0)"/>
<circle cx="178.80" cy="541.70" r="1.57" fill="url(#dot0)"/>
<circle cx="191.10" cy="547.40" r="1.95" fill="url(#dot2)"/>
<circle cx="182.50" cy="548.80" r="1.57" fill="url(#dot0)"/>
<circle cx="200.50" cy="552.20" r="1.50" fill="url(#dot2)"/>
<circle cx="205.10" cy="554.70" r="1.57" fill="url(#dot0)"/>
<circle cx="207.60" cy="554.40" r="1.60" fill="url(#dot1)"/>
<circle cx="175.20" cy="556.00" r="1.60" fill="url(#dot1)"/>
<circle cx="200.50" cy="560.10" r="1.44" fill="url(#dot1)"/>
<rect x="214.30" y="530.30" width="42.50" height="31.70" fill="#dedede"/>
<circle cx="217.60" cy="532.10" r="1.80" fill="url(#dot2)"/>
<circle cx="226.60" cy="541.60" r="1.76" fill="url(#dot1)"/>
<circle cx="236.20" cy="542.90" r="1.60" fill="url(#dot1)"/>
<circle cx="238.90" cy="540.70" r="1.60" fill="url(#dot1)"/>
<circle cx="239.10" cy="545.60" r="1.57" fill="url(#dot0)"/>
<circle cx="256.10" cy="544.30" r="1.28" fill="url(#dot1)"/>
<circle cx="240.80" cy="559.20" r="1.28" fill="url(#dot1)"/>
<circle cx="250.90" cy="558.60" r="2.10" fill="url(#dot2)"/>
<rect x="259.20" y="530.30" width="41.70" height="31.70" fill="#d7d7d7"/>
<circle cx="292.60" cy="534.30" r="1.80" fill="url(#dot2)"/>
<circle cx="283.60" cy="539.60" r="2.40" fill="url(#dot2)"/>
<circle cx="266.70" cy="539.80" r="1.75" fill="url(#dot0)"/>
<circle cx="272.70" cy="539.30" r="1.57" fill="url(#dot0)"/>
<circle cx="267.30" cy="544.70" r="1.65" fill="url(#dot2)"/>
<circle cx="265.50" cy="551.30" r="1.35" fill="url(#dot2)"/>
<circle cx="284.90" cy="547.00" r="1.57" fill="url(#dot0)"/>
<circle cx="289.90" cy="557.40" r="1.76" fill="url(#dot1)"/>
<circle cx="294.00" cy="558.70" r="1.60" fill="url(#dot1)"/>
<circle cx="299.90" cy="538.00" r="1.57" fill="url(#dot0)"/>
<circle cx="270.90" cy="531.20" r="1.40" fill="url(#dot0)"/>
<text x="303.70" y="479.90" font-size="9.0" text-anchor="start" font-weight="normal" fill="#111" style="color:#111" >MLL-AF9 #1</text>
<text x="303.70" y="515.20" font-size="9.0" text-anchor="start" font-weight="normal" fill="#111" style="color:#111" >MLL-AF9 #2</text>
<text x="303.70" y="549.80" font-size="9.0" text-anchor="start" font-weight="normal" fill="#111" style="color:#111" >MOZ-TIF2</text>
</g>
</svg>
</div></body></html>
